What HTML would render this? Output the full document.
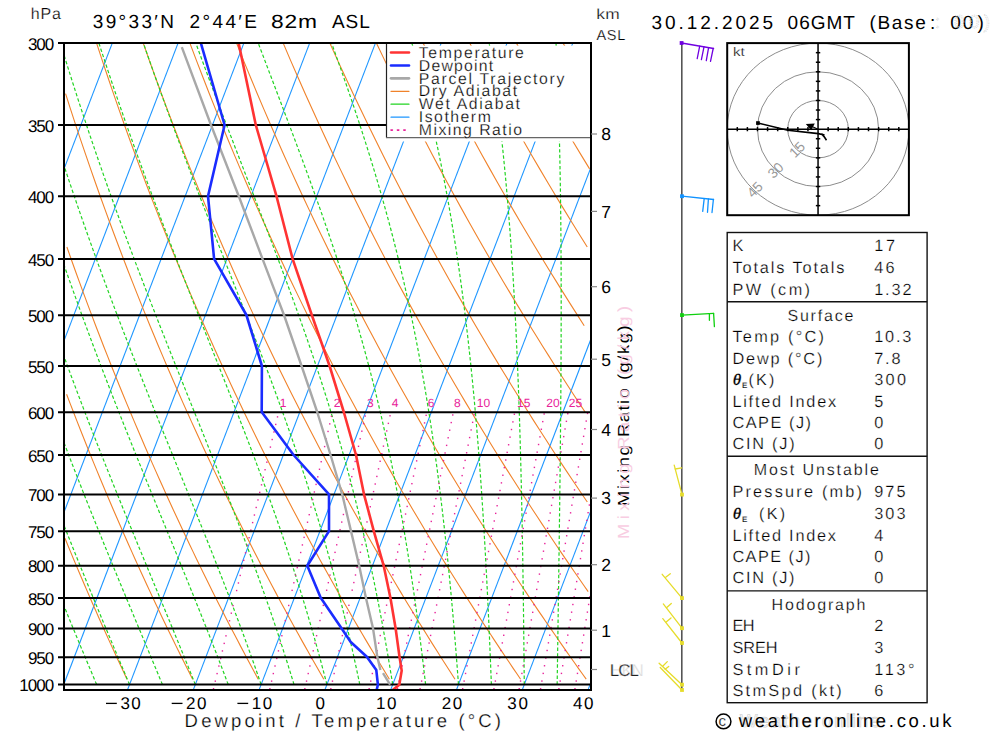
<!DOCTYPE html>
<html><head><meta charset="utf-8"><style>
html,body{margin:0;padding:0;background:#fff;}
svg{display:block;}
text{font-family:"Liberation Sans",sans-serif;text-rendering:geometricPrecision;stroke:#fff;stroke-width:0.25px;paint-order:fill;}
</style></head><body>
<svg width="1000" height="733" viewBox="0 0 1000 733">
<rect width="1000" height="733" fill="#fff"/>
<defs><clipPath id="pc"><rect x="64.0" y="43.0" width="527.0" height="647.0"/></clipPath><clipPath id="hc"><rect x="727.2" y="43.1" width="181.7" height="172.1"/></clipPath></defs>
<g clip-path="url(#pc)">
<g stroke="#1e96ff" stroke-width="1.1" fill="none"><line x1="-464.61" y1="689.85" x2="-216.57" y2="42.89"/><line x1="-398.82" y1="689.85" x2="-150.78" y2="42.89"/><line x1="-333.03" y1="689.85" x2="-84.99" y2="42.89"/><line x1="-267.24" y1="689.85" x2="-19.2" y2="42.89"/><line x1="-201.45" y1="689.85" x2="46.59" y2="42.89"/><line x1="-135.66" y1="689.85" x2="112.38" y2="42.89"/><line x1="-69.87" y1="689.85" x2="178.17" y2="42.89"/><line x1="-4.08" y1="689.85" x2="243.96" y2="42.89"/><line x1="61.71" y1="689.85" x2="309.75" y2="42.89"/><line x1="127.5" y1="689.85" x2="375.54" y2="42.89"/><line x1="193.29" y1="689.85" x2="441.33" y2="42.89"/><line x1="259.08" y1="689.85" x2="507.12" y2="42.89"/><line x1="324.87" y1="689.85" x2="572.91" y2="42.89"/><line x1="390.66" y1="689.85" x2="638.7" y2="42.89"/><line x1="456.45" y1="689.85" x2="704.49" y2="42.89"/><line x1="522.24" y1="689.85" x2="770.28" y2="42.89"/><line x1="588.03" y1="689.85" x2="836.07" y2="42.89"/></g>
<g stroke="#f0822a" stroke-width="1.1" fill="none"><polyline points="127,679.19 124.45,673.78 121.89,668.32 119.32,662.79 116.74,657.21 114.14,651.57 111.53,645.87 108.91,640.11 106.27,634.29 103.62,628.4 100.96,622.44 98.28,616.42 95.59,610.33 92.88,604.17 90.16,597.94 87.42,591.63 84.67,585.25 81.9,578.79 79.12,572.25 76.32,565.63 73.51,558.92 70.68,552.13 67.83,545.26 64.97,538.29"/><polyline points="192.6,679.19 189.86,673.78 187.11,668.32 184.35,662.79 181.57,657.21 178.78,651.57 175.97,645.87 173.15,640.11 170.31,634.29 167.46,628.4 164.59,622.44 161.71,616.42 158.81,610.33 155.9,604.17 152.96,597.94 150.02,591.63 147.05,585.25 144.07,578.79 141.07,572.25 138.05,565.63 135.02,558.92 131.96,552.13 128.89,545.26 125.8,538.29 122.69,531.23 119.56,524.08 116.41,516.82 113.24,509.47 110.05,502.02 106.84,494.46 103.61,486.79 100.36,479.01 97.09,471.12 93.79,463.1 90.48,454.96 87.14,446.7 83.77,438.31 80.38,429.78 76.97,421.11 73.54,412.31 70.08,403.35 66.59,394.24"/><polyline points="258.2,679.19 255.27,673.78 252.33,668.32 249.38,662.79 246.4,657.21 243.42,651.57 240.41,645.87 237.39,640.11 234.36,634.29 231.3,628.4 228.23,622.44 225.14,616.42 222.04,610.33 218.91,604.17 215.77,597.94 212.61,591.63 209.43,585.25 206.23,578.79 203.01,572.25 199.78,565.63 196.52,558.92 193.24,552.13 189.95,545.26 186.63,538.29 183.29,531.23 179.93,524.08 176.54,516.82 173.14,509.47 169.71,502.02 166.26,494.46 162.79,486.79 159.29,479.01 155.77,471.12 152.22,463.1 148.65,454.96 145.05,446.7 141.43,438.31 137.78,429.78 134.1,421.11 130.39,412.31 126.66,403.35 122.9,394.24 119.11,384.97 115.29,375.54 111.44,365.93 107.56,356.15 103.64,346.19 99.7,336.04 95.72,325.69 91.71,315.14 87.66,304.37 83.58,293.38 79.46,282.16 75.31,270.7 71.12,258.99 66.89,247.01"/><polyline points="323.8,679.19 320.69,673.78 317.55,668.32 314.4,662.79 311.24,657.21 308.05,651.57 304.85,645.87 301.63,640.11 298.4,634.29 295.14,628.4 291.87,622.44 288.57,616.42 285.26,610.33 281.93,604.17 278.57,597.94 275.2,591.63 271.81,585.25 268.4,578.79 264.96,572.25 261.5,565.63 258.03,558.92 254.53,552.13 251,545.26 247.46,538.29 243.89,531.23 240.29,524.08 236.68,516.82 233.04,509.47 229.37,502.02 225.68,494.46 221.96,486.79 218.21,479.01 214.44,471.12 210.65,463.1 206.82,454.96 202.96,446.7 199.08,438.31 195.17,429.78 191.22,421.11 187.25,412.31 183.24,403.35 179.21,394.24 175.14,384.97 171.03,375.54 166.9,365.93 162.73,356.15 158.52,346.19 154.28,336.04 150,325.69 145.68,315.14 141.32,304.37 136.93,293.38 132.49,282.16 128.01,270.7 123.49,258.99 118.93,247.01 114.32,234.76 109.67,222.22 104.97,209.37 100.22,196.21 95.43,182.72 90.58,168.88 85.69,154.66 80.74,140.06 75.73,125.05 70.68,109.6 65.56,93.69"/><polyline points="389.4,679.19 386.1,673.78 382.77,668.32 379.43,662.79 376.07,657.21 372.69,651.57 369.29,645.87 365.87,640.11 362.44,634.29 358.98,628.4 355.5,622.44 352,616.42 348.48,610.33 344.94,604.17 341.38,597.94 337.8,591.63 334.19,585.25 330.56,578.79 326.91,572.25 323.23,565.63 319.53,558.92 315.81,552.13 312.06,545.26 308.29,538.29 304.49,531.23 300.66,524.08 296.81,516.82 292.93,509.47 289.03,502.02 285.09,494.46 281.13,486.79 277.14,479.01 273.12,471.12 269.07,463.1 264.99,454.96 260.88,446.7 256.73,438.31 252.56,429.78 248.35,421.11 244.11,412.31 239.83,403.35 235.52,394.24 231.17,384.97 226.78,375.54 222.36,365.93 217.9,356.15 213.4,346.19 208.85,336.04 204.27,325.69 199.65,315.14 194.98,304.37 190.27,293.38 185.51,282.16 180.71,270.7 175.86,258.99 170.96,247.01 166.02,234.76 161.02,222.22 155.97,209.37 150.86,196.21 145.7,182.72 140.48,168.88 135.21,154.66 129.87,140.06 124.48,125.05 119.02,109.6 113.49,93.69 107.9,77.29 102.24,60.37 96.51,42.89"/><polyline points="455,679.19 451.51,673.78 447.99,668.32 444.46,662.79 440.9,657.21 437.33,651.57 433.73,645.87 430.12,640.11 426.48,634.29 422.82,628.4 419.14,622.44 415.43,616.42 411.71,610.33 407.96,604.17 404.18,597.94 400.39,591.63 396.57,585.25 392.72,578.79 388.85,572.25 384.96,565.63 381.04,558.92 377.09,552.13 373.12,545.26 369.11,538.29 365.09,531.23 361.03,524.08 356.94,516.82 352.83,509.47 348.68,502.02 344.51,494.46 340.3,486.79 336.07,479.01 331.8,471.12 327.5,463.1 323.16,454.96 318.79,446.7 314.39,438.31 309.95,429.78 305.47,421.11 300.96,412.31 296.41,403.35 291.82,394.24 287.2,384.97 282.53,375.54 277.82,365.93 273.07,356.15 268.27,346.19 263.43,336.04 258.55,325.69 253.62,315.14 248.64,304.37 243.62,293.38 238.54,282.16 233.41,270.7 228.23,258.99 223,247.01 217.71,234.76 212.36,222.22 206.96,209.37 201.5,196.21 195.97,182.72 190.38,168.88 184.73,154.66 179.01,140.06 173.22,125.05 167.36,109.6 161.42,93.69 155.41,77.29 149.32,60.37 143.15,42.89"/><polyline points="520.61,679.19 516.92,673.78 513.21,668.32 509.49,662.79 505.74,657.21 501.97,651.57 498.17,645.87 494.36,640.11 490.52,634.29 486.66,628.4 482.77,622.44 478.86,616.42 474.93,610.33 470.97,604.17 466.99,597.94 462.98,591.63 458.95,585.25 454.89,578.79 450.8,572.25 446.68,565.63 442.54,558.92 438.37,552.13 434.17,545.26 429.94,538.29 425.68,531.23 421.4,524.08 417.08,516.82 412.72,509.47 408.34,502.02 403.93,494.46 399.48,486.79 394.99,479.01 390.48,471.12 385.92,463.1 381.33,454.96 376.71,446.7 372.04,438.31 367.34,429.78 362.6,421.11 357.82,412.31 353,403.35 348.13,394.24 343.22,384.97 338.27,375.54 333.28,365.93 328.24,356.15 323.15,346.19 318.01,336.04 312.83,325.69 307.59,315.14 302.3,304.37 296.96,293.38 291.56,282.16 286.11,270.7 280.6,258.99 275.03,247.01 269.4,234.76 263.71,222.22 257.96,209.37 252.13,196.21 246.24,182.72 240.28,168.88 234.25,154.66 228.14,140.06 221.96,125.05 215.7,109.6 209.35,93.69 202.92,77.29 196.4,60.37 189.79,42.89"/><polyline points="586.21,679.19 582.33,673.78 578.43,668.32 574.51,662.79 570.57,657.21 566.6,651.57 562.61,645.87 558.6,640.11 554.56,634.29 550.5,628.4 546.41,622.44 542.29,616.42 538.15,610.33 533.99,604.17 529.8,597.94 525.57,591.63 521.33,585.25 517.05,578.79 512.75,572.25 508.41,565.63 504.05,558.92 499.65,552.13 495.23,545.26 490.77,538.29 486.28,531.23 481.76,524.08 477.21,516.82 472.62,509.47 468,502.02 463.34,494.46 458.65,486.79 453.92,479.01 449.15,471.12 444.35,463.1 439.5,454.96 434.62,446.7 429.7,438.31 424.73,429.78 419.73,421.11 414.67,412.31 409.58,403.35 404.44,394.24 399.25,384.97 394.02,375.54 388.74,365.93 383.41,356.15 378.02,346.19 372.59,336.04 367.1,325.69 361.56,315.14 355.96,304.37 350.3,293.38 344.59,282.16 338.81,270.7 332.97,258.99 327.07,247.01 321.1,234.76 315.06,222.22 308.95,209.37 302.77,196.21 296.52,182.72 290.18,168.88 283.77,154.66 277.28,140.06 270.7,125.05 264.04,109.6 257.28,93.69 250.43,77.29 243.48,60.37 236.44,42.89"/><polyline points="588.17,591.63 583.71,585.25 579.21,578.79 574.69,572.25 570.14,565.63 565.55,558.92 560.93,552.13 556.28,545.26 551.6,538.29 546.88,531.23 542.13,524.08 537.34,516.82 532.52,509.47 527.66,502.02 522.76,494.46 517.82,486.79 512.85,479.01 507.83,471.12 502.77,463.1 497.68,454.96 492.54,446.7 487.35,438.31 482.12,429.78 476.85,421.11 471.53,412.31 466.16,403.35 460.75,394.24 455.28,384.97 449.77,375.54 444.2,365.93 438.58,356.15 432.9,346.19 427.17,336.04 421.38,325.69 415.53,315.14 409.62,304.37 403.65,293.38 397.61,282.16 391.51,270.7 385.34,258.99 379.1,247.01 372.79,234.76 366.41,222.22 359.95,209.37 353.41,196.21 346.79,182.72 340.08,168.88 333.29,154.66 326.41,140.06 319.44,125.05 312.37,109.6 305.21,93.69 297.94,77.29 290.56,60.37 283.08,42.89"/><polyline points="587.31,502.02 582.17,494.46 576.99,486.79 571.77,479.01 566.51,471.12 561.2,463.1 555.85,454.96 550.45,446.7 545.01,438.31 539.51,429.78 533.98,421.11 528.39,412.31 522.75,403.35 517.06,394.24 511.31,384.97 505.51,375.54 499.66,365.93 493.75,356.15 487.78,346.19 481.75,336.04 475.66,325.69 469.5,315.14 463.28,304.37 456.99,293.38 450.64,282.16 444.21,270.7 437.71,258.99 431.14,247.01 424.49,234.76 417.76,222.22 410.94,209.37 404.05,196.21 397.06,182.72 389.98,168.88 382.82,154.66 375.55,140.06 368.18,125.05 360.71,109.6 353.14,93.69 345.45,77.29 337.64,60.37 329.72,42.89"/><polyline points="585.24,412.31 579.33,403.35 573.36,394.24 567.34,384.97 561.26,375.54 555.12,365.93 548.92,356.15 542.65,346.19 536.33,336.04 529.93,325.69 523.47,315.14 516.94,304.37 510.34,293.38 503.66,282.16 496.91,270.7 490.08,258.99 483.17,247.01 476.18,234.76 469.1,222.22 461.94,209.37 454.68,196.21 447.33,182.72 439.88,168.88 432.34,154.66 424.69,140.06 416.93,125.05 409.05,109.6 401.07,93.69 392.96,77.29 384.72,60.37 376.36,42.89"/><polyline points="584.21,325.69 577.44,315.14 570.6,304.37 563.68,293.38 556.69,282.16 549.61,270.7 542.45,258.99 535.21,247.01 527.88,234.76 520.45,222.22 512.93,209.37 505.32,196.21 497.6,182.72 489.79,168.88 481.86,154.66 473.82,140.06 465.67,125.05 457.39,109.6 449,93.69 440.47,77.29 431.81,60.37 423,42.89"/><polyline points="587.24,247.01 579.57,234.76 571.8,222.22 563.93,209.37 555.96,196.21 547.88,182.72 539.69,168.88 531.38,154.66 522.96,140.06 514.41,125.05 505.73,109.6 496.92,93.69 487.98,77.29 478.89,60.37 469.64,42.89"/><polyline points="589.59,168.88 580.9,154.66 572.09,140.06 563.15,125.05 554.07,109.6 544.85,93.69 535.49,77.29 525.97,60.37 516.29,42.89"/><polyline points="583,77.29 573.05,60.37 562.93,42.89"/></g>
<g stroke="#22d422" stroke-width="1.2" fill="none" stroke-dasharray="3.4 2.2"><polyline points="96.63,684.55 95.51,681.88 94.38,679.19 93.24,676.5 92.1,673.78 90.96,671.06 89.8,668.32 88.65,665.56 87.49,662.79 86.33,660.01 85.16,657.21 83.98,654.4 82.8,651.57 81.62,648.73 80.43,645.87 79.24,643 78.04,640.11 76.84,637.21 75.63,634.29 74.42,631.35 73.21,628.4 71.98,625.43 70.76,622.44 69.53,619.44 68.29,616.42 67.05,613.38 65.81,610.33 64.56,607.26 63.3,604.17 62.04,601.06 60.78,597.94 59.51,594.79 58.24,591.63 56.96,588.45 55.68,585.25 54.39,582.03 53.09,578.79 51.8,575.53 50.49,572.25 49.19,568.95 47.88,565.63 46.56,562.28 45.24,558.92 43.91,555.54 42.58,552.13 41.24,548.71 39.9,545.26 38.56,541.78 37.2,538.29 35.85,534.77 34.49,531.23 33.12,527.66 31.75,524.08 30.38,520.46 29,516.82 27.61,513.16 26.22,509.47 24.82,505.76 23.42,502.02 22.02,498.25 20.61,494.46 19.19,490.64 17.77,486.79 16.35,482.92 14.92,479.01 13.48,475.08 12.04,471.12 10.59,467.12 9.14,463.1 7.69,459.05 6.23,454.96 4.76,450.85 3.29,446.7 1.81,442.52 0.33,438.31 -1.16,434.06 -2.65,429.78 -4.15,425.47 -5.65,421.11 -7.16,416.73 -8.68,412.31 -10.2,407.85 -11.72,403.35 -13.25,398.81 -14.79,394.24 -16.33,389.62 -17.88,384.97 -19.43,380.27 -20.99,375.54 -22.55,370.76 -24.12,365.93 -25.7,361.07 -27.28,356.15 -28.87,351.2 -30.46,346.19 -32.06,341.14 -33.66,336.04 -35.27,330.89 -36.89,325.69 -38.51,320.44 -40.14,315.14 -41.78,309.78 -43.42,304.37 -45.06,298.9 -46.71,293.38 -48.37,287.8 -50.04,282.16 -51.71,276.46 -53.39,270.7 -55.07,264.87 -56.76,258.99 -58.46,253.03 -60.16,247.01 -61.87,240.92 -63.58,234.76 -65.31,228.52 -67.03,222.22 -68.77,215.83 -70.51,209.37 -72.26,202.83 -74.01,196.21 -75.78,189.51 -77.54,182.72 -79.32,175.84 -81.1,168.88 -82.89,161.82 -84.68,154.66 -86.49,147.41 -88.3,140.06 -90.11,132.61 -91.93,125.05 -93.76,117.38 -95.6,109.6 -97.44,101.7 -99.29,93.69 -101.15,85.55 -103.01,77.29 -104.88,68.9 -106.75,60.37 -108.64,51.7 -110.52,42.89"/><polyline points="129.53,684.55 128.4,681.88 127.27,679.19 126.13,676.5 124.99,673.78 123.84,671.06 122.69,668.32 121.53,665.56 120.36,662.79 119.19,660.01 118.01,657.21 116.83,654.4 115.64,651.57 114.45,648.73 113.25,645.87 112.05,643 110.83,640.11 109.62,637.21 108.4,634.29 107.17,631.35 105.94,628.4 104.7,625.43 103.45,622.44 102.2,619.44 100.95,616.42 99.69,613.38 98.42,610.33 97.15,607.26 95.87,604.17 94.58,601.06 93.29,597.94 92,594.79 90.7,591.63 89.39,588.45 88.08,585.25 86.76,582.03 85.44,578.79 84.11,575.53 82.77,572.25 81.43,568.95 80.09,565.63 78.73,562.28 77.38,558.92 76.01,555.54 74.64,552.13 73.27,548.71 71.89,545.26 70.5,541.78 69.11,538.29 67.71,534.77 66.31,531.23 64.9,527.66 63.48,524.08 62.06,520.46 60.64,516.82 59.21,513.16 57.77,509.47 56.32,505.76 54.88,502.02 53.42,498.25 51.96,494.46 50.49,490.64 49.02,486.79 47.54,482.92 46.06,479.01 44.57,475.08 43.07,471.12 41.57,467.12 40.06,463.1 38.55,459.05 37.03,454.96 35.5,450.85 33.97,446.7 32.44,442.52 30.89,438.31 29.34,434.06 27.79,429.78 26.23,425.47 24.66,421.11 23.09,416.73 21.51,412.31 19.92,407.85 18.33,403.35 16.73,398.81 15.13,394.24 13.52,389.62 11.9,384.97 10.28,380.27 8.65,375.54 7.01,370.76 5.37,365.93 3.72,361.07 2.07,356.15 0.4,351.2 -1.26,346.19 -2.94,341.14 -4.62,336.04 -6.31,330.89 -8,325.69 -9.7,320.44 -11.41,315.14 -13.12,309.78 -14.84,304.37 -16.57,298.9 -18.31,293.38 -20.05,287.8 -21.8,282.16 -23.55,276.46 -25.31,270.7 -27.08,264.87 -28.86,258.99 -30.65,253.03 -32.44,247.01 -34.23,240.92 -36.04,234.76 -37.85,228.52 -39.67,222.22 -41.5,215.83 -43.34,209.37 -45.18,202.83 -47.03,196.21 -48.89,189.51 -50.75,182.72 -52.63,175.84 -54.51,168.88 -56.39,161.82 -58.29,154.66 -60.19,147.41 -62.11,140.06 -64.03,132.61 -65.95,125.05 -67.89,117.38 -69.83,109.6 -71.78,101.7 -73.74,93.69 -75.71,85.55 -77.68,77.29 -79.67,68.9 -81.66,60.37 -83.65,51.7 -85.66,42.89"/><polyline points="162.42,684.55 161.32,681.88 160.2,679.19 159.08,676.5 157.95,673.78 156.82,671.06 155.68,668.32 154.53,665.56 153.38,662.79 152.22,660.01 151.05,657.21 149.88,654.4 148.7,651.57 147.51,648.73 146.32,645.87 145.12,643 143.91,640.11 142.69,637.21 141.47,634.29 140.25,631.35 139.01,628.4 137.77,625.43 136.52,622.44 135.27,619.44 134.01,616.42 132.74,613.38 131.47,610.33 130.19,607.26 128.9,604.17 127.6,601.06 126.3,597.94 125,594.79 123.68,591.63 122.36,588.45 121.03,585.25 119.7,582.03 118.35,578.79 117.01,575.53 115.65,572.25 114.29,568.95 112.92,565.63 111.54,562.28 110.16,558.92 108.77,555.54 107.38,552.13 105.97,548.71 104.56,545.26 103.15,541.78 101.72,538.29 100.29,534.77 98.86,531.23 97.41,527.66 95.96,524.08 94.51,520.46 93.04,516.82 91.57,513.16 90.09,509.47 88.61,505.76 87.12,502.02 85.62,498.25 84.12,494.46 82.61,490.64 81.09,486.79 79.56,482.92 78.03,479.01 76.49,475.08 74.95,471.12 73.39,467.12 71.83,463.1 70.27,459.05 68.7,454.96 67.12,450.85 65.53,446.7 63.94,442.52 62.34,438.31 60.73,434.06 59.11,429.78 57.49,425.47 55.86,421.11 54.23,416.73 52.59,412.31 50.94,407.85 49.28,403.35 47.62,398.81 45.95,394.24 44.27,389.62 42.58,384.97 40.89,380.27 39.19,375.54 37.49,370.76 35.77,365.93 34.05,361.07 32.33,356.15 30.59,351.2 28.85,346.19 27.1,341.14 25.34,336.04 23.58,330.89 21.8,325.69 20.02,320.44 18.24,315.14 16.44,309.78 14.64,304.37 12.83,298.9 11.01,293.38 9.18,287.8 7.35,282.16 5.51,276.46 3.66,270.7 1.8,264.87 -0.06,258.99 -1.94,253.03 -3.82,247.01 -5.71,240.92 -7.61,234.76 -9.51,228.52 -11.43,222.22 -13.35,215.83 -15.28,209.37 -17.22,202.83 -19.17,196.21 -21.12,189.51 -23.09,182.72 -25.06,175.84 -27.04,168.88 -29.04,161.82 -31.04,154.66 -33.04,147.41 -35.06,140.06 -37.09,132.61 -39.12,125.05 -41.17,117.38 -43.22,109.6 -45.29,101.7 -47.36,93.69 -49.44,85.55 -51.53,77.29 -53.63,68.9 -55.74,60.37 -57.86,51.7 -59.98,42.89"/><polyline points="195.32,684.55 194.25,681.88 193.18,679.19 192.1,676.5 191.01,673.78 189.91,671.06 188.8,668.32 187.69,665.56 186.57,662.79 185.44,660.01 184.31,657.21 183.16,654.4 182.01,651.57 180.85,648.73 179.69,645.87 178.51,643 177.33,640.11 176.14,637.21 174.94,634.29 173.74,631.35 172.52,628.4 171.3,625.43 170.07,622.44 168.84,619.44 167.59,616.42 166.34,613.38 165.08,610.33 163.81,607.26 162.53,604.17 161.24,601.06 159.95,597.94 158.65,594.79 157.34,591.63 156.02,588.45 154.7,585.25 153.36,582.03 152.02,578.79 150.67,575.53 149.31,572.25 147.95,568.95 146.57,565.63 145.19,562.28 143.8,558.92 142.4,555.54 140.99,552.13 139.58,548.71 138.16,545.26 136.73,541.78 135.29,538.29 133.84,534.77 132.38,531.23 130.92,527.66 129.45,524.08 127.97,520.46 126.48,516.82 124.98,513.16 123.48,509.47 121.97,505.76 120.44,502.02 118.92,498.25 117.38,494.46 115.83,490.64 114.28,486.79 112.72,482.92 111.15,479.01 109.57,475.08 107.99,471.12 106.39,467.12 104.79,463.1 103.18,459.05 101.56,454.96 99.93,450.85 98.3,446.7 96.66,442.52 95.01,438.31 93.35,434.06 91.68,429.78 90,425.47 88.32,421.11 86.63,416.73 84.93,412.31 83.22,407.85 81.5,403.35 79.78,398.81 78.05,394.24 76.3,389.62 74.55,384.97 72.8,380.27 71.03,375.54 69.26,370.76 67.47,365.93 65.68,361.07 63.88,356.15 62.07,351.2 60.26,346.19 58.43,341.14 56.6,336.04 54.76,330.89 52.91,325.69 51.05,320.44 49.18,315.14 47.31,309.78 45.42,304.37 43.53,298.9 41.63,293.38 39.71,287.8 37.79,282.16 35.87,276.46 33.93,270.7 31.98,264.87 30.03,258.99 28.06,253.03 26.09,247.01 24.1,240.92 22.11,234.76 20.11,228.52 18.1,222.22 16.08,215.83 14.05,209.37 12.01,202.83 9.96,196.21 7.9,189.51 5.83,182.72 3.75,175.84 1.67,168.88 -0.43,161.82 -2.54,154.66 -4.66,147.41 -6.79,140.06 -8.92,132.61 -11.07,125.05 -13.23,117.38 -15.4,109.6 -17.58,101.7 -19.77,93.69 -21.97,85.55 -24.18,77.29 -26.4,68.9 -28.64,60.37 -30.88,51.7 -33.13,42.89"/><polyline points="228.21,684.55 227.21,681.88 226.2,679.19 225.18,676.5 224.15,673.78 223.12,671.06 222.07,668.32 221.02,665.56 219.96,662.79 218.89,660.01 217.81,657.21 216.72,654.4 215.63,651.57 214.52,648.73 213.41,645.87 212.29,643 211.16,640.11 210.02,637.21 208.87,634.29 207.71,631.35 206.54,628.4 205.37,625.43 204.18,622.44 202.99,619.44 201.79,616.42 200.57,613.38 199.35,610.33 198.12,607.26 196.88,604.17 195.63,601.06 194.37,597.94 193.1,594.79 191.82,591.63 190.53,588.45 189.24,585.25 187.93,582.03 186.61,578.79 185.29,575.53 183.95,572.25 182.61,568.95 181.25,565.63 179.89,562.28 178.51,558.92 177.13,555.54 175.73,552.13 174.33,548.71 172.92,545.26 171.49,541.78 170.06,538.29 168.62,534.77 167.16,531.23 165.7,527.66 164.23,524.08 162.75,520.46 161.25,516.82 159.75,513.16 158.24,509.47 156.72,505.76 155.19,502.02 153.64,498.25 152.09,494.46 150.53,490.64 148.96,486.79 147.38,482.92 145.79,479.01 144.19,475.08 142.58,471.12 140.96,467.12 139.33,463.1 137.68,459.05 136.03,454.96 134.37,450.85 132.7,446.7 131.02,442.52 129.34,438.31 127.64,434.06 125.93,429.78 124.21,425.47 122.48,421.11 120.74,416.73 118.99,412.31 117.23,407.85 115.46,403.35 113.69,398.81 111.9,394.24 110.1,389.62 108.29,384.97 106.48,380.27 104.65,375.54 102.81,370.76 100.97,365.93 99.11,361.07 97.24,356.15 95.37,351.2 93.48,346.19 91.58,341.14 89.68,336.04 87.76,330.89 85.83,325.69 83.9,320.44 81.95,315.14 80,309.78 78.03,304.37 76.05,298.9 74.07,293.38 72.07,287.8 70.06,282.16 68.05,276.46 66.02,270.7 63.98,264.87 61.93,258.99 59.87,253.03 57.81,247.01 55.73,240.92 53.64,234.76 51.54,228.52 49.43,222.22 47.3,215.83 45.17,209.37 43.03,202.83 40.87,196.21 38.71,189.51 36.53,182.72 34.35,175.84 32.15,168.88 29.94,161.82 27.72,154.66 25.48,147.41 23.24,140.06 20.98,132.61 18.72,125.05 16.44,117.38 14.15,109.6 11.84,101.7 9.53,93.69 7.2,85.55 4.86,77.29 2.51,68.9 0.15,60.37 -2.23,51.7 -4.61,42.89"/><polyline points="261.11,684.55 260.19,681.88 259.27,679.19 258.34,676.5 257.4,673.78 256.45,671.06 255.49,668.32 254.52,665.56 253.55,662.79 252.56,660.01 251.57,657.21 250.56,654.4 249.55,651.57 248.53,648.73 247.5,645.87 246.46,643 245.41,640.11 244.34,637.21 243.27,634.29 242.19,631.35 241.1,628.4 240,625.43 238.89,622.44 237.77,619.44 236.64,616.42 235.5,613.38 234.35,610.33 233.19,607.26 232.02,604.17 230.84,601.06 229.64,597.94 228.44,594.79 227.23,591.63 226,588.45 224.76,585.25 223.52,582.03 222.26,578.79 220.99,575.53 219.71,572.25 218.42,568.95 217.11,565.63 215.8,562.28 214.47,558.92 213.14,555.54 211.79,552.13 210.43,548.71 209.05,545.26 207.67,541.78 206.28,538.29 204.87,534.77 203.45,531.23 202.02,527.66 200.58,524.08 199.12,520.46 197.66,516.82 196.18,513.16 194.69,509.47 193.19,505.76 191.68,502.02 190.15,498.25 188.61,494.46 187.06,490.64 185.5,486.79 183.93,482.92 182.34,479.01 180.74,475.08 179.13,471.12 177.51,467.12 175.88,463.1 174.23,459.05 172.57,454.96 170.9,450.85 169.22,446.7 167.53,442.52 165.82,438.31 164.1,434.06 162.37,429.78 160.63,425.47 158.87,421.11 157.1,416.73 155.32,412.31 153.53,407.85 151.73,403.35 149.91,398.81 148.09,394.24 146.25,389.62 144.39,384.97 142.53,380.27 140.66,375.54 138.77,370.76 136.87,365.93 134.96,361.07 133.03,356.15 131.1,351.2 129.15,346.19 127.19,341.14 125.22,336.04 123.23,330.89 121.24,325.69 119.23,320.44 117.21,315.14 115.18,309.78 113.14,304.37 111.08,298.9 109.01,293.38 106.93,287.8 104.84,282.16 102.74,276.46 100.62,270.7 98.49,264.87 96.35,258.99 94.2,253.03 92.04,247.01 89.86,240.92 87.67,234.76 85.47,228.52 83.26,222.22 81.03,215.83 78.79,209.37 76.54,202.83 74.28,196.21 72,189.51 69.71,182.72 67.41,175.84 65.09,168.88 62.77,161.82 60.43,154.66 58.07,147.41 55.71,140.06 53.33,132.61 50.93,125.05 48.53,117.38 46.1,109.6 43.67,101.7 41.22,93.69 38.76,85.55 36.29,77.29 33.8,68.9 31.29,60.37 28.78,51.7 26.24,42.89"/><polyline points="294,684.55 293.2,681.88 292.38,679.19 291.56,676.5 290.73,673.78 289.89,671.06 289.04,668.32 288.18,665.56 287.31,662.79 286.44,660.01 285.55,657.21 284.66,654.4 283.76,651.57 282.84,648.73 281.92,645.87 280.99,643 280.05,640.11 279.09,637.21 278.13,634.29 277.16,631.35 276.18,628.4 275.19,625.43 274.18,622.44 273.17,619.44 272.15,616.42 271.11,613.38 270.06,610.33 269.01,607.26 267.94,604.17 266.86,601.06 265.77,597.94 264.67,594.79 263.55,591.63 262.43,588.45 261.29,585.25 260.14,582.03 258.98,578.79 257.81,575.53 256.62,572.25 255.42,568.95 254.21,565.63 252.99,562.28 251.75,558.92 250.5,555.54 249.24,552.13 247.97,548.71 246.68,545.26 245.38,541.78 244.06,538.29 242.73,534.77 241.39,531.23 240.04,527.66 238.67,524.08 237.28,520.46 235.89,516.82 234.48,513.16 233.05,509.47 231.61,505.76 230.16,502.02 228.69,498.25 227.21,494.46 225.72,490.64 224.21,486.79 222.68,482.92 221.14,479.01 219.59,475.08 218.02,471.12 216.44,467.12 214.84,463.1 213.23,459.05 211.6,454.96 209.95,450.85 208.3,446.7 206.62,442.52 204.94,438.31 203.23,434.06 201.52,429.78 199.78,425.47 198.04,421.11 196.27,416.73 194.49,412.31 192.7,407.85 190.89,403.35 189.07,398.81 187.23,394.24 185.38,389.62 183.51,384.97 181.63,380.27 179.73,375.54 177.81,370.76 175.88,365.93 173.94,361.07 171.98,356.15 170.01,351.2 168.02,346.19 166.01,341.14 164,336.04 161.96,330.89 159.91,325.69 157.85,320.44 155.77,315.14 153.68,309.78 151.57,304.37 149.45,298.9 147.31,293.38 145.15,287.8 142.99,282.16 140.8,276.46 138.61,270.7 136.39,264.87 134.17,258.99 131.93,253.03 129.67,247.01 127.4,240.92 125.11,234.76 122.81,228.52 120.49,222.22 118.16,215.83 115.82,209.37 113.46,202.83 111.08,196.21 108.69,189.51 106.29,182.72 103.86,175.84 101.43,168.88 98.98,161.82 96.51,154.66 94.03,147.41 91.53,140.06 89.02,132.61 86.49,125.05 83.95,117.38 81.39,109.6 78.81,101.7 76.22,93.69 73.61,85.55 70.99,77.29 68.35,68.9 65.69,60.37 63.02,51.7 60.33,42.89"/><polyline points="326.9,684.55 326.22,681.88 325.52,679.19 324.83,676.5 324.12,673.78 323.4,671.06 322.68,668.32 321.95,665.56 321.21,662.79 320.47,660.01 319.71,657.21 318.95,654.4 318.17,651.57 317.39,648.73 316.6,645.87 315.8,643 314.99,640.11 314.17,637.21 313.34,634.29 312.51,631.35 311.66,628.4 310.8,625.43 309.93,622.44 309.06,619.44 308.17,616.42 307.27,613.38 306.36,610.33 305.44,607.26 304.51,604.17 303.57,601.06 302.61,597.94 301.65,594.79 300.67,591.63 299.68,588.45 298.68,585.25 297.67,582.03 296.64,578.79 295.61,575.53 294.56,572.25 293.5,568.95 292.42,565.63 291.33,562.28 290.23,558.92 289.12,555.54 287.99,552.13 286.84,548.71 285.69,545.26 284.52,541.78 283.33,538.29 282.13,534.77 280.92,531.23 279.69,527.66 278.45,524.08 277.19,520.46 275.92,516.82 274.63,513.16 273.32,509.47 272,505.76 270.66,502.02 269.31,498.25 267.94,494.46 266.56,490.64 265.16,486.79 263.74,482.92 262.3,479.01 260.85,475.08 259.38,471.12 257.89,467.12 256.39,463.1 254.87,459.05 253.33,454.96 251.77,450.85 250.2,446.7 248.6,442.52 246.99,438.31 245.36,434.06 243.72,429.78 242.05,425.47 240.37,421.11 238.66,416.73 236.94,412.31 235.2,407.85 233.44,403.35 231.66,398.81 229.87,394.24 228.05,389.62 226.22,384.97 224.36,380.27 222.49,375.54 220.6,370.76 218.69,365.93 216.75,361.07 214.8,356.15 212.84,351.2 210.85,346.19 208.84,341.14 206.81,336.04 204.77,330.89 202.7,325.69 200.62,320.44 198.51,315.14 196.39,309.78 194.25,304.37 192.08,298.9 189.9,293.38 187.7,287.8 185.49,282.16 183.25,276.46 180.99,270.7 178.72,264.87 176.42,258.99 174.11,253.03 171.77,247.01 169.42,240.92 167.05,234.76 164.66,228.52 162.26,222.22 159.83,215.83 157.39,209.37 154.92,202.83 152.44,196.21 149.94,189.51 147.42,182.72 144.88,175.84 142.32,168.88 139.75,161.82 137.15,154.66 134.54,147.41 131.91,140.06 129.26,132.61 126.59,125.05 123.9,117.38 121.19,109.6 118.47,101.7 115.72,93.69 112.96,85.55 110.17,77.29 107.37,68.9 104.55,60.37 101.7,51.7 98.84,42.89"/><polyline points="359.79,684.55 359.24,681.88 358.68,679.19 358.11,676.5 357.54,673.78 356.96,671.06 356.37,668.32 355.78,665.56 355.18,662.79 354.57,660.01 353.96,657.21 353.33,654.4 352.7,651.57 352.07,648.73 351.42,645.87 350.77,643 350.11,640.11 349.44,637.21 348.76,634.29 348.07,631.35 347.38,628.4 346.67,625.43 345.96,622.44 345.24,619.44 344.51,616.42 343.77,613.38 343.02,610.33 342.26,607.26 341.49,604.17 340.71,601.06 339.92,597.94 339.11,594.79 338.3,591.63 337.48,588.45 336.65,585.25 335.81,582.03 334.95,578.79 334.08,575.53 333.2,572.25 332.31,568.95 331.41,565.63 330.5,562.28 329.57,558.92 328.63,555.54 327.67,552.13 326.71,548.71 325.73,545.26 324.73,541.78 323.73,538.29 322.71,534.77 321.67,531.23 320.62,527.66 319.55,524.08 318.47,520.46 317.38,516.82 316.27,513.16 315.14,509.47 314,505.76 312.84,502.02 311.66,498.25 310.47,494.46 309.26,490.64 308.03,486.79 306.79,482.92 305.52,479.01 304.24,475.08 302.94,471.12 301.63,467.12 300.29,463.1 298.93,459.05 297.56,454.96 296.16,450.85 294.75,446.7 293.31,442.52 291.86,438.31 290.38,434.06 288.89,429.78 287.37,425.47 285.83,421.11 284.27,416.73 282.69,412.31 281.08,407.85 279.45,403.35 277.8,398.81 276.13,394.24 274.44,389.62 272.72,384.97 270.98,380.27 269.21,375.54 267.42,370.76 265.61,365.93 263.77,361.07 261.91,356.15 260.03,351.2 258.12,346.19 256.18,341.14 254.23,336.04 252.24,330.89 250.23,325.69 248.2,320.44 246.14,315.14 244.06,309.78 241.95,304.37 239.82,298.9 237.66,293.38 235.47,287.8 233.26,282.16 231.03,276.46 228.77,270.7 226.48,264.87 224.17,258.99 221.83,253.03 219.47,247.01 217.09,240.92 214.68,234.76 212.24,228.52 209.78,222.22 207.29,215.83 204.78,209.37 202.24,202.83 199.68,196.21 197.1,189.51 194.48,182.72 191.85,175.84 189.19,168.88 186.51,161.82 183.8,154.66 181.06,147.41 178.31,140.06 175.52,132.61 172.72,125.05 169.89,117.38 167.03,109.6 164.16,101.7 161.25,93.69 158.33,85.55 155.37,77.29 152.4,68.9 149.4,60.37 146.38,51.7 143.33,42.89"/><polyline points="392.69,684.55 392.27,681.88 391.84,679.19 391.4,676.5 390.96,673.78 390.51,671.06 390.06,668.32 389.61,665.56 389.15,662.79 388.68,660.01 388.21,657.21 387.73,654.4 387.24,651.57 386.75,648.73 386.25,645.87 385.75,643 385.24,640.11 384.72,637.21 384.2,634.29 383.67,631.35 383.13,628.4 382.59,625.43 382.04,622.44 381.48,619.44 380.91,616.42 380.34,613.38 379.76,610.33 379.17,607.26 378.57,604.17 377.96,601.06 377.35,597.94 376.72,594.79 376.09,591.63 375.45,588.45 374.8,585.25 374.14,582.03 373.48,578.79 372.8,575.53 372.11,572.25 371.41,568.95 370.7,565.63 369.98,562.28 369.25,558.92 368.51,555.54 367.76,552.13 367,548.71 366.23,545.26 365.44,541.78 364.64,538.29 363.83,534.77 363.01,531.23 362.17,527.66 361.32,524.08 360.46,520.46 359.59,516.82 358.7,513.16 357.79,509.47 356.87,505.76 355.94,502.02 354.99,498.25 354.03,494.46 353.05,490.64 352.05,486.79 351.04,482.92 350.01,479.01 348.97,475.08 347.9,471.12 346.82,467.12 345.73,463.1 344.61,459.05 343.47,454.96 342.32,450.85 341.14,446.7 339.95,442.52 338.73,438.31 337.5,434.06 336.24,429.78 334.96,425.47 333.66,421.11 332.34,416.73 330.99,412.31 329.62,407.85 328.23,403.35 326.82,398.81 325.38,394.24 323.91,389.62 322.42,384.97 320.9,380.27 319.36,375.54 317.79,370.76 316.19,365.93 314.57,361.07 312.92,356.15 311.24,351.2 309.53,346.19 307.79,341.14 306.03,336.04 304.23,330.89 302.4,325.69 300.55,320.44 298.66,315.14 296.74,309.78 294.79,304.37 292.81,298.9 290.79,293.38 288.75,287.8 286.67,282.16 284.55,276.46 282.41,270.7 280.23,264.87 278.02,258.99 275.77,253.03 273.49,247.01 271.17,240.92 268.83,234.76 266.44,228.52 264.02,222.22 261.57,215.83 259.09,209.37 256.56,202.83 254.01,196.21 251.42,189.51 248.79,182.72 246.13,175.84 243.44,168.88 240.71,161.82 237.95,154.66 235.15,147.41 232.32,140.06 229.46,132.61 226.56,125.05 223.63,117.38 220.66,109.6 217.66,101.7 214.63,93.69 211.56,85.55 208.46,77.29 205.33,68.9 202.16,60.37 198.97,51.7 195.74,42.89"/><polyline points="425.58,684.55 425.28,681.88 424.97,679.19 424.66,676.5 424.35,673.78 424.03,671.06 423.71,668.32 423.38,665.56 423.05,662.79 422.72,660.01 422.38,657.21 422.03,654.4 421.69,651.57 421.34,648.73 420.98,645.87 420.62,643 420.25,640.11 419.88,637.21 419.51,634.29 419.13,631.35 418.74,628.4 418.35,625.43 417.96,622.44 417.56,619.44 417.15,616.42 416.74,613.38 416.32,610.33 415.9,607.26 415.47,604.17 415.03,601.06 414.59,597.94 414.14,594.79 413.69,591.63 413.23,588.45 412.76,585.25 412.28,582.03 411.8,578.79 411.31,575.53 410.81,572.25 410.31,568.95 409.8,565.63 409.28,562.28 408.75,558.92 408.21,555.54 407.67,552.13 407.11,548.71 406.55,545.26 405.98,541.78 405.4,538.29 404.81,534.77 404.21,531.23 403.6,527.66 402.98,524.08 402.35,520.46 401.71,516.82 401.06,513.16 400.4,509.47 399.72,505.76 399.04,502.02 398.34,498.25 397.63,494.46 396.9,490.64 396.17,486.79 395.42,482.92 394.66,479.01 393.88,475.08 393.09,471.12 392.29,467.12 391.47,463.1 390.63,459.05 389.78,454.96 388.92,450.85 388.03,446.7 387.13,442.52 386.22,438.31 385.28,434.06 384.33,429.78 383.36,425.47 382.37,421.11 381.36,416.73 380.33,412.31 379.27,407.85 378.2,403.35 377.11,398.81 375.99,394.24 374.85,389.62 373.69,384.97 372.51,380.27 371.3,375.54 370.06,370.76 368.8,365.93 367.51,361.07 366.2,356.15 364.85,351.2 363.48,346.19 362.08,341.14 360.65,336.04 359.2,330.89 357.7,325.69 356.18,320.44 354.63,315.14 353.04,309.78 351.41,304.37 349.76,298.9 348.06,293.38 346.34,287.8 344.57,282.16 342.76,276.46 340.92,270.7 339.04,264.87 337.12,258.99 335.16,253.03 333.15,247.01 331.11,240.92 329.02,234.76 326.89,228.52 324.71,222.22 322.49,215.83 320.22,209.37 317.91,202.83 315.55,196.21 313.15,189.51 310.69,182.72 308.19,175.84 305.64,168.88 303.05,161.82 300.4,154.66 297.71,147.41 294.96,140.06 292.17,132.61 289.32,125.05 286.43,117.38 283.49,109.6 280.49,101.7 277.45,93.69 274.36,85.55 271.22,77.29 268.03,68.9 264.79,60.37 261.5,51.7 258.16,42.89"/><polyline points="458.48,684.55 458.28,681.88 458.09,679.19 457.89,676.5 457.69,673.78 457.48,671.06 457.27,668.32 457.06,665.56 456.85,662.79 456.64,660.01 456.42,657.21 456.2,654.4 455.98,651.57 455.75,648.73 455.52,645.87 455.29,643 455.05,640.11 454.81,637.21 454.57,634.29 454.33,631.35 454.08,628.4 453.83,625.43 453.58,622.44 453.32,619.44 453.06,616.42 452.79,613.38 452.52,610.33 452.25,607.26 451.97,604.17 451.69,601.06 451.4,597.94 451.11,594.79 450.82,591.63 450.52,588.45 450.22,585.25 449.91,582.03 449.6,578.79 449.29,575.53 448.96,572.25 448.64,568.95 448.31,565.63 447.97,562.28 447.63,558.92 447.28,555.54 446.92,552.13 446.57,548.71 446.2,545.26 445.83,541.78 445.45,538.29 445.07,534.77 444.68,531.23 444.28,527.66 443.88,524.08 443.47,520.46 443.05,516.82 442.62,513.16 442.19,509.47 441.75,505.76 441.3,502.02 440.84,498.25 440.38,494.46 439.9,490.64 439.42,486.79 438.93,482.92 438.42,479.01 437.91,475.08 437.39,471.12 436.86,467.12 436.32,463.1 435.76,459.05 435.2,454.96 434.63,450.85 434.04,446.7 433.44,442.52 432.83,438.31 432.21,434.06 431.57,429.78 430.92,425.47 430.25,421.11 429.58,416.73 428.88,412.31 428.17,407.85 427.45,403.35 426.71,398.81 425.95,394.24 425.18,389.62 424.39,384.97 423.58,380.27 422.75,375.54 421.9,370.76 421.04,365.93 420.15,361.07 419.24,356.15 418.31,351.2 417.35,346.19 416.38,341.14 415.38,336.04 414.35,330.89 413.3,325.69 412.22,320.44 411.12,315.14 409.99,309.78 408.83,304.37 407.63,298.9 406.41,293.38 405.16,287.8 403.87,282.16 402.55,276.46 401.19,270.7 399.8,264.87 398.37,258.99 396.9,253.03 395.39,247.01 393.84,240.92 392.25,234.76 390.62,228.52 388.94,222.22 387.21,215.83 385.44,209.37 383.61,202.83 381.74,196.21 379.81,189.51 377.83,182.72 375.8,175.84 373.71,168.88 371.56,161.82 369.35,154.66 367.08,147.41 364.75,140.06 362.36,132.61 359.9,125.05 357.38,117.38 354.78,109.6 352.12,101.7 349.39,93.69 346.59,85.55 343.71,77.29 340.77,68.9 337.74,60.37 334.65,51.7 331.48,42.89"/><polyline points="491.38,684.55 491.27,681.88 491.17,679.19 491.07,676.5 490.96,673.78 490.85,671.06 490.75,668.32 490.64,665.56 490.52,662.79 490.41,660.01 490.3,657.21 490.18,654.4 490.07,651.57 489.95,648.73 489.83,645.87 489.71,643 489.58,640.11 489.46,637.21 489.33,634.29 489.2,631.35 489.07,628.4 488.94,625.43 488.81,622.44 488.67,619.44 488.53,616.42 488.39,613.38 488.25,610.33 488.11,607.26 487.96,604.17 487.81,601.06 487.66,597.94 487.51,594.79 487.35,591.63 487.19,588.45 487.03,585.25 486.87,582.03 486.7,578.79 486.53,575.53 486.36,572.25 486.19,568.95 486.01,565.63 485.83,562.28 485.65,558.92 485.46,555.54 485.27,552.13 485.08,548.71 484.88,545.26 484.69,541.78 484.48,538.29 484.28,534.77 484.06,531.23 483.85,527.66 483.63,524.08 483.41,520.46 483.18,516.82 482.95,513.16 482.72,509.47 482.48,505.76 482.23,502.02 481.98,498.25 481.73,494.46 481.47,490.64 481.21,486.79 480.94,482.92 480.66,479.01 480.38,475.08 480.1,471.12 479.8,467.12 479.5,463.1 479.2,459.05 478.89,454.96 478.57,450.85 478.24,446.7 477.91,442.52 477.57,438.31 477.22,434.06 476.87,429.78 476.51,425.47 476.13,421.11 475.75,416.73 475.36,412.31 474.97,407.85 474.56,403.35 474.14,398.81 473.71,394.24 473.27,389.62 472.83,384.97 472.37,380.27 471.89,375.54 471.41,370.76 470.91,365.93 470.4,361.07 469.88,356.15 469.34,351.2 468.79,346.19 468.23,341.14 467.65,336.04 467.05,330.89 466.44,325.69 465.81,320.44 465.16,315.14 464.5,309.78 463.81,304.37 463.1,298.9 462.38,293.38 461.63,287.8 460.86,282.16 460.07,276.46 459.25,270.7 458.41,264.87 457.54,258.99 456.65,253.03 455.73,247.01 454.77,240.92 453.79,234.76 452.78,228.52 451.73,222.22 450.65,215.83 449.53,209.37 448.37,202.83 447.17,196.21 445.94,189.51 444.66,182.72 443.34,175.84 441.96,168.88 440.55,161.82 439.08,154.66 437.55,147.41 435.98,140.06 434.34,132.61 432.65,125.05 430.89,117.38 429.07,109.6 427.18,101.7 425.22,93.69 423.18,85.55 421.07,77.29 418.88,68.9 416.61,60.37 414.25,51.7 411.8,42.89"/><polyline points="524.27,684.55 524.25,681.88 524.22,679.19 524.2,676.5 524.17,673.78 524.14,671.06 524.12,668.32 524.09,665.56 524.06,662.79 524.04,660.01 524.01,657.21 523.98,654.4 523.95,651.57 523.92,648.73 523.89,645.87 523.86,643 523.83,640.11 523.8,637.21 523.76,634.29 523.73,631.35 523.7,628.4 523.66,625.43 523.63,622.44 523.59,619.44 523.56,616.42 523.52,613.38 523.48,610.33 523.44,607.26 523.4,604.17 523.36,601.06 523.32,597.94 523.28,594.79 523.23,591.63 523.19,588.45 523.15,585.25 523.1,582.03 523.05,578.79 523,575.53 522.95,572.25 522.9,568.95 522.85,565.63 522.8,562.28 522.75,558.92 522.69,555.54 522.64,552.13 522.58,548.71 522.52,545.26 522.46,541.78 522.4,538.29 522.33,534.77 522.27,531.23 522.2,527.66 522.13,524.08 522.06,520.46 521.99,516.82 521.92,513.16 521.84,509.47 521.76,505.76 521.68,502.02 521.6,498.25 521.52,494.46 521.43,490.64 521.35,486.79 521.25,482.92 521.16,479.01 521.07,475.08 520.97,471.12 520.87,467.12 520.76,463.1 520.66,459.05 520.55,454.96 520.44,450.85 520.32,446.7 520.2,442.52 520.08,438.31 519.96,434.06 519.83,429.78 519.69,425.47 519.56,421.11 519.42,416.73 519.27,412.31 519.12,407.85 518.97,403.35 518.81,398.81 518.65,394.24 518.48,389.62 518.31,384.97 518.13,380.27 517.94,375.54 517.75,370.76 517.56,365.93 517.35,361.07 517.15,356.15 516.93,351.2 516.71,346.19 516.48,341.14 516.24,336.04 516,330.89 515.74,325.69 515.48,320.44 515.21,315.14 514.93,309.78 514.64,304.37 514.34,298.9 514.03,293.38 513.71,287.8 513.38,282.16 513.03,276.46 512.68,270.7 512.31,264.87 511.92,258.99 511.53,253.03 511.11,247.01 510.69,240.92 510.24,234.76 509.78,228.52 509.3,222.22 508.8,215.83 508.29,209.37 507.75,202.83 507.19,196.21 506.61,189.51 506,182.72 505.37,175.84 504.71,168.88 504.02,161.82 503.31,154.66 502.56,147.41 501.78,140.06 500.97,132.61 500.12,125.05 499.23,117.38 498.31,109.6 497.34,101.7 496.32,93.69 495.26,85.55 494.14,77.29 492.98,68.9 491.75,60.37 490.47,51.7 489.12,42.89"/><polyline points="557.16,684.55 557.2,681.88 557.24,679.19 557.28,676.5 557.32,673.78 557.36,671.06 557.4,668.32 557.44,665.56 557.48,662.79 557.52,660.01 557.56,657.21 557.6,654.4 557.64,651.57 557.68,648.73 557.72,645.87 557.76,643 557.8,640.11 557.84,637.21 557.89,634.29 557.93,631.35 557.97,628.4 558.01,625.43 558.06,622.44 558.1,619.44 558.14,616.42 558.19,613.38 558.23,610.33 558.28,607.26 558.32,604.17 558.37,601.06 558.41,597.94 558.46,594.79 558.5,591.63 558.55,588.45 558.59,585.25 558.64,582.03 558.68,578.79 558.73,575.53 558.78,572.25 558.82,568.95 558.87,565.63 558.91,562.28 558.96,558.92 559.01,555.54 559.06,552.13 559.1,548.71 559.15,545.26 559.2,541.78 559.24,538.29 559.29,534.77 559.34,531.23 559.39,527.66 559.43,524.08 559.48,520.46 559.53,516.82 559.57,513.16 559.62,509.47 559.67,505.76 559.72,502.02 559.76,498.25 559.81,494.46 559.86,490.64 559.9,486.79 559.95,482.92 559.99,479.01 560.04,475.08 560.09,471.12 560.13,467.12 560.18,463.1 560.22,459.05 560.27,454.96 560.31,450.85 560.35,446.7 560.4,442.52 560.44,438.31 560.48,434.06 560.52,429.78 560.56,425.47 560.6,421.11 560.64,416.73 560.68,412.31 560.72,407.85 560.75,403.35 560.79,398.81 560.82,394.24 560.86,389.62 560.89,384.97 560.92,380.27 560.95,375.54 560.98,370.76 561.01,365.93 561.03,361.07 561.05,356.15 561.08,351.2 561.1,346.19 561.12,341.14 561.13,336.04 561.15,330.89 561.16,325.69 561.17,320.44 561.18,315.14 561.18,309.78 561.18,304.37 561.18,298.9 561.18,293.38 561.17,287.8 561.16,282.16 561.14,276.46 561.12,270.7 561.1,264.87 561.07,258.99 561.04,253.03 561,247.01 560.96,240.92 560.91,234.76 560.86,228.52 560.8,222.22 560.73,215.83 560.66,209.37 560.57,202.83 560.49,196.21 560.39,189.51 560.28,182.72 560.17,175.84 560.04,168.88 559.91,161.82 559.76,154.66 559.6,147.41 559.43,140.06 559.25,132.61 559.05,125.05 558.83,117.38 558.6,109.6 558.35,101.7 558.09,93.69 557.8,85.55 557.49,77.29 557.16,68.9 556.81,60.37 556.43,51.7 556.02,42.89"/></g>
<g fill="#e8229a"><rect x="212.83" y="688" width="1.4" height="1.4"/><rect x="214.61" y="680.45" width="1.4" height="1.4"/><rect x="216.39" y="672.9" width="1.4" height="1.4"/><rect x="218.17" y="665.35" width="1.4" height="1.4"/><rect x="219.94" y="657.8" width="1.4" height="1.4"/><rect x="221.72" y="650.25" width="1.4" height="1.4"/><rect x="223.5" y="642.7" width="1.4" height="1.4"/><rect x="225.28" y="635.15" width="1.4" height="1.4"/><rect x="227.05" y="627.59" width="1.4" height="1.4"/><rect x="228.83" y="620.04" width="1.4" height="1.4"/><rect x="230.61" y="612.49" width="1.4" height="1.4"/><rect x="232.38" y="604.94" width="1.4" height="1.4"/><rect x="234.16" y="597.39" width="1.4" height="1.4"/><rect x="235.94" y="589.84" width="1.4" height="1.4"/><rect x="237.72" y="582.29" width="1.4" height="1.4"/><rect x="239.49" y="574.74" width="1.4" height="1.4"/><rect x="241.27" y="567.19" width="1.4" height="1.4"/><rect x="243.05" y="559.64" width="1.4" height="1.4"/><rect x="244.83" y="552.09" width="1.4" height="1.4"/><rect x="246.6" y="544.54" width="1.4" height="1.4"/><rect x="248.38" y="536.99" width="1.4" height="1.4"/><rect x="250.16" y="529.44" width="1.4" height="1.4"/><rect x="251.93" y="521.89" width="1.4" height="1.4"/><rect x="253.71" y="514.33" width="1.4" height="1.4"/><rect x="255.49" y="506.78" width="1.4" height="1.4"/><rect x="257.27" y="499.23" width="1.4" height="1.4"/><rect x="259.04" y="491.68" width="1.4" height="1.4"/><rect x="260.82" y="484.13" width="1.4" height="1.4"/><rect x="262.6" y="476.58" width="1.4" height="1.4"/><rect x="264.37" y="469.03" width="1.4" height="1.4"/><rect x="266.15" y="461.48" width="1.4" height="1.4"/><rect x="267.93" y="453.93" width="1.4" height="1.4"/><rect x="269.71" y="446.38" width="1.4" height="1.4"/><rect x="271.48" y="438.83" width="1.4" height="1.4"/><rect x="273.26" y="431.28" width="1.4" height="1.4"/><rect x="275.04" y="423.73" width="1.4" height="1.4"/><rect x="276.82" y="416.18" width="1.4" height="1.4"/><rect x="269.2" y="688" width="1.4" height="1.4"/><rect x="270.91" y="680.43" width="1.4" height="1.4"/><rect x="272.62" y="672.87" width="1.4" height="1.4"/><rect x="274.33" y="665.3" width="1.4" height="1.4"/><rect x="276.04" y="657.74" width="1.4" height="1.4"/><rect x="277.75" y="650.17" width="1.4" height="1.4"/><rect x="279.46" y="642.6" width="1.4" height="1.4"/><rect x="281.17" y="635.04" width="1.4" height="1.4"/><rect x="282.88" y="627.47" width="1.4" height="1.4"/><rect x="284.59" y="619.9" width="1.4" height="1.4"/><rect x="286.3" y="612.34" width="1.4" height="1.4"/><rect x="288.01" y="604.77" width="1.4" height="1.4"/><rect x="289.72" y="597.21" width="1.4" height="1.4"/><rect x="291.43" y="589.64" width="1.4" height="1.4"/><rect x="293.14" y="582.07" width="1.4" height="1.4"/><rect x="294.85" y="574.51" width="1.4" height="1.4"/><rect x="296.56" y="566.94" width="1.4" height="1.4"/><rect x="298.27" y="559.38" width="1.4" height="1.4"/><rect x="299.98" y="551.81" width="1.4" height="1.4"/><rect x="301.69" y="544.24" width="1.4" height="1.4"/><rect x="303.4" y="536.68" width="1.4" height="1.4"/><rect x="305.11" y="529.11" width="1.4" height="1.4"/><rect x="306.82" y="521.54" width="1.4" height="1.4"/><rect x="308.53" y="513.98" width="1.4" height="1.4"/><rect x="310.24" y="506.41" width="1.4" height="1.4"/><rect x="311.95" y="498.85" width="1.4" height="1.4"/><rect x="313.66" y="491.28" width="1.4" height="1.4"/><rect x="315.37" y="483.71" width="1.4" height="1.4"/><rect x="317.08" y="476.15" width="1.4" height="1.4"/><rect x="318.79" y="468.58" width="1.4" height="1.4"/><rect x="320.5" y="461.02" width="1.4" height="1.4"/><rect x="322.21" y="453.45" width="1.4" height="1.4"/><rect x="323.92" y="445.88" width="1.4" height="1.4"/><rect x="325.63" y="438.32" width="1.4" height="1.4"/><rect x="327.34" y="430.75" width="1.4" height="1.4"/><rect x="329.05" y="423.18" width="1.4" height="1.4"/><rect x="330.76" y="415.62" width="1.4" height="1.4"/><rect x="304.16" y="688" width="1.4" height="1.4"/><rect x="305.84" y="680.43" width="1.4" height="1.4"/><rect x="307.51" y="672.85" width="1.4" height="1.4"/><rect x="309.19" y="665.28" width="1.4" height="1.4"/><rect x="310.87" y="657.71" width="1.4" height="1.4"/><rect x="312.54" y="650.13" width="1.4" height="1.4"/><rect x="314.22" y="642.56" width="1.4" height="1.4"/><rect x="315.89" y="634.98" width="1.4" height="1.4"/><rect x="317.57" y="627.41" width="1.4" height="1.4"/><rect x="319.25" y="619.84" width="1.4" height="1.4"/><rect x="320.92" y="612.26" width="1.4" height="1.4"/><rect x="322.6" y="604.69" width="1.4" height="1.4"/><rect x="324.28" y="597.12" width="1.4" height="1.4"/><rect x="325.95" y="589.54" width="1.4" height="1.4"/><rect x="327.63" y="581.97" width="1.4" height="1.4"/><rect x="329.3" y="574.39" width="1.4" height="1.4"/><rect x="330.98" y="566.82" width="1.4" height="1.4"/><rect x="332.66" y="559.25" width="1.4" height="1.4"/><rect x="334.33" y="551.67" width="1.4" height="1.4"/><rect x="336.01" y="544.1" width="1.4" height="1.4"/><rect x="337.69" y="536.53" width="1.4" height="1.4"/><rect x="339.36" y="528.95" width="1.4" height="1.4"/><rect x="341.04" y="521.38" width="1.4" height="1.4"/><rect x="342.71" y="513.8" width="1.4" height="1.4"/><rect x="344.39" y="506.23" width="1.4" height="1.4"/><rect x="346.07" y="498.66" width="1.4" height="1.4"/><rect x="347.74" y="491.08" width="1.4" height="1.4"/><rect x="349.42" y="483.51" width="1.4" height="1.4"/><rect x="351.1" y="475.94" width="1.4" height="1.4"/><rect x="352.77" y="468.36" width="1.4" height="1.4"/><rect x="354.45" y="460.79" width="1.4" height="1.4"/><rect x="356.12" y="453.21" width="1.4" height="1.4"/><rect x="357.8" y="445.64" width="1.4" height="1.4"/><rect x="359.48" y="438.07" width="1.4" height="1.4"/><rect x="361.15" y="430.49" width="1.4" height="1.4"/><rect x="362.83" y="422.92" width="1.4" height="1.4"/><rect x="364.51" y="415.35" width="1.4" height="1.4"/><rect x="330.13" y="688" width="1.4" height="1.4"/><rect x="331.77" y="680.42" width="1.4" height="1.4"/><rect x="333.42" y="672.84" width="1.4" height="1.4"/><rect x="335.06" y="665.26" width="1.4" height="1.4"/><rect x="336.7" y="657.68" width="1.4" height="1.4"/><rect x="338.35" y="650.1" width="1.4" height="1.4"/><rect x="339.99" y="642.52" width="1.4" height="1.4"/><rect x="341.64" y="634.93" width="1.4" height="1.4"/><rect x="343.28" y="627.35" width="1.4" height="1.4"/><rect x="344.92" y="619.77" width="1.4" height="1.4"/><rect x="346.57" y="612.19" width="1.4" height="1.4"/><rect x="348.21" y="604.61" width="1.4" height="1.4"/><rect x="349.86" y="597.03" width="1.4" height="1.4"/><rect x="351.5" y="589.45" width="1.4" height="1.4"/><rect x="353.14" y="581.87" width="1.4" height="1.4"/><rect x="354.79" y="574.29" width="1.4" height="1.4"/><rect x="356.43" y="566.71" width="1.4" height="1.4"/><rect x="358.08" y="559.13" width="1.4" height="1.4"/><rect x="359.72" y="551.55" width="1.4" height="1.4"/><rect x="361.37" y="543.97" width="1.4" height="1.4"/><rect x="363.01" y="536.38" width="1.4" height="1.4"/><rect x="364.65" y="528.8" width="1.4" height="1.4"/><rect x="366.3" y="521.22" width="1.4" height="1.4"/><rect x="367.94" y="513.64" width="1.4" height="1.4"/><rect x="369.59" y="506.06" width="1.4" height="1.4"/><rect x="371.23" y="498.48" width="1.4" height="1.4"/><rect x="372.87" y="490.9" width="1.4" height="1.4"/><rect x="374.52" y="483.32" width="1.4" height="1.4"/><rect x="376.16" y="475.74" width="1.4" height="1.4"/><rect x="377.81" y="468.16" width="1.4" height="1.4"/><rect x="379.45" y="460.58" width="1.4" height="1.4"/><rect x="381.1" y="453" width="1.4" height="1.4"/><rect x="382.74" y="445.42" width="1.4" height="1.4"/><rect x="384.38" y="437.84" width="1.4" height="1.4"/><rect x="386.03" y="430.25" width="1.4" height="1.4"/><rect x="387.67" y="422.67" width="1.4" height="1.4"/><rect x="389.32" y="415.09" width="1.4" height="1.4"/><rect x="368.47" y="688" width="1.4" height="1.4"/><rect x="370.06" y="680.41" width="1.4" height="1.4"/><rect x="371.64" y="672.81" width="1.4" height="1.4"/><rect x="373.22" y="665.22" width="1.4" height="1.4"/><rect x="374.8" y="657.62" width="1.4" height="1.4"/><rect x="376.39" y="650.03" width="1.4" height="1.4"/><rect x="377.97" y="642.44" width="1.4" height="1.4"/><rect x="379.55" y="634.84" width="1.4" height="1.4"/><rect x="381.13" y="627.25" width="1.4" height="1.4"/><rect x="382.72" y="619.66" width="1.4" height="1.4"/><rect x="384.3" y="612.06" width="1.4" height="1.4"/><rect x="385.88" y="604.47" width="1.4" height="1.4"/><rect x="387.47" y="596.87" width="1.4" height="1.4"/><rect x="389.05" y="589.28" width="1.4" height="1.4"/><rect x="390.63" y="581.69" width="1.4" height="1.4"/><rect x="392.21" y="574.09" width="1.4" height="1.4"/><rect x="393.8" y="566.5" width="1.4" height="1.4"/><rect x="395.38" y="558.9" width="1.4" height="1.4"/><rect x="396.96" y="551.31" width="1.4" height="1.4"/><rect x="398.54" y="543.72" width="1.4" height="1.4"/><rect x="400.13" y="536.12" width="1.4" height="1.4"/><rect x="401.71" y="528.53" width="1.4" height="1.4"/><rect x="403.29" y="520.94" width="1.4" height="1.4"/><rect x="404.87" y="513.34" width="1.4" height="1.4"/><rect x="406.46" y="505.75" width="1.4" height="1.4"/><rect x="408.04" y="498.15" width="1.4" height="1.4"/><rect x="409.62" y="490.56" width="1.4" height="1.4"/><rect x="411.2" y="482.97" width="1.4" height="1.4"/><rect x="412.79" y="475.37" width="1.4" height="1.4"/><rect x="414.37" y="467.78" width="1.4" height="1.4"/><rect x="415.95" y="460.18" width="1.4" height="1.4"/><rect x="417.53" y="452.59" width="1.4" height="1.4"/><rect x="419.12" y="445" width="1.4" height="1.4"/><rect x="420.7" y="437.4" width="1.4" height="1.4"/><rect x="422.28" y="429.81" width="1.4" height="1.4"/><rect x="423.86" y="422.22" width="1.4" height="1.4"/><rect x="425.45" y="414.62" width="1.4" height="1.4"/><rect x="396.81" y="688" width="1.4" height="1.4"/><rect x="398.34" y="680.4" width="1.4" height="1.4"/><rect x="399.88" y="672.79" width="1.4" height="1.4"/><rect x="401.41" y="665.19" width="1.4" height="1.4"/><rect x="402.95" y="657.59" width="1.4" height="1.4"/><rect x="404.48" y="649.98" width="1.4" height="1.4"/><rect x="406.02" y="642.38" width="1.4" height="1.4"/><rect x="407.55" y="634.77" width="1.4" height="1.4"/><rect x="409.09" y="627.17" width="1.4" height="1.4"/><rect x="410.62" y="619.57" width="1.4" height="1.4"/><rect x="412.16" y="611.96" width="1.4" height="1.4"/><rect x="413.69" y="604.36" width="1.4" height="1.4"/><rect x="415.23" y="596.76" width="1.4" height="1.4"/><rect x="416.76" y="589.15" width="1.4" height="1.4"/><rect x="418.29" y="581.55" width="1.4" height="1.4"/><rect x="419.83" y="573.95" width="1.4" height="1.4"/><rect x="421.36" y="566.34" width="1.4" height="1.4"/><rect x="422.9" y="558.74" width="1.4" height="1.4"/><rect x="424.43" y="551.13" width="1.4" height="1.4"/><rect x="425.97" y="543.53" width="1.4" height="1.4"/><rect x="427.5" y="535.93" width="1.4" height="1.4"/><rect x="429.04" y="528.32" width="1.4" height="1.4"/><rect x="430.57" y="520.72" width="1.4" height="1.4"/><rect x="432.11" y="513.12" width="1.4" height="1.4"/><rect x="433.64" y="505.51" width="1.4" height="1.4"/><rect x="435.18" y="497.91" width="1.4" height="1.4"/><rect x="436.71" y="490.31" width="1.4" height="1.4"/><rect x="438.25" y="482.7" width="1.4" height="1.4"/><rect x="439.78" y="475.1" width="1.4" height="1.4"/><rect x="441.32" y="467.49" width="1.4" height="1.4"/><rect x="442.85" y="459.89" width="1.4" height="1.4"/><rect x="444.39" y="452.29" width="1.4" height="1.4"/><rect x="445.92" y="444.68" width="1.4" height="1.4"/><rect x="447.46" y="437.08" width="1.4" height="1.4"/><rect x="448.99" y="429.48" width="1.4" height="1.4"/><rect x="450.53" y="421.87" width="1.4" height="1.4"/><rect x="452.06" y="414.27" width="1.4" height="1.4"/><rect x="419.41" y="688" width="1.4" height="1.4"/><rect x="420.91" y="680.39" width="1.4" height="1.4"/><rect x="422.42" y="672.78" width="1.4" height="1.4"/><rect x="423.92" y="665.17" width="1.4" height="1.4"/><rect x="425.42" y="657.56" width="1.4" height="1.4"/><rect x="426.92" y="649.95" width="1.4" height="1.4"/><rect x="428.42" y="642.34" width="1.4" height="1.4"/><rect x="429.92" y="634.73" width="1.4" height="1.4"/><rect x="431.42" y="627.12" width="1.4" height="1.4"/><rect x="432.92" y="619.51" width="1.4" height="1.4"/><rect x="434.42" y="611.9" width="1.4" height="1.4"/><rect x="435.92" y="604.28" width="1.4" height="1.4"/><rect x="437.42" y="596.67" width="1.4" height="1.4"/><rect x="438.92" y="589.06" width="1.4" height="1.4"/><rect x="440.42" y="581.45" width="1.4" height="1.4"/><rect x="441.92" y="573.84" width="1.4" height="1.4"/><rect x="443.42" y="566.23" width="1.4" height="1.4"/><rect x="444.92" y="558.62" width="1.4" height="1.4"/><rect x="446.42" y="551.01" width="1.4" height="1.4"/><rect x="447.92" y="543.4" width="1.4" height="1.4"/><rect x="449.42" y="535.79" width="1.4" height="1.4"/><rect x="450.92" y="528.18" width="1.4" height="1.4"/><rect x="452.43" y="520.57" width="1.4" height="1.4"/><rect x="453.93" y="512.96" width="1.4" height="1.4"/><rect x="455.43" y="505.35" width="1.4" height="1.4"/><rect x="456.93" y="497.74" width="1.4" height="1.4"/><rect x="458.43" y="490.13" width="1.4" height="1.4"/><rect x="459.93" y="482.52" width="1.4" height="1.4"/><rect x="461.43" y="474.91" width="1.4" height="1.4"/><rect x="462.93" y="467.3" width="1.4" height="1.4"/><rect x="464.43" y="459.69" width="1.4" height="1.4"/><rect x="465.93" y="452.07" width="1.4" height="1.4"/><rect x="467.43" y="444.46" width="1.4" height="1.4"/><rect x="468.93" y="436.85" width="1.4" height="1.4"/><rect x="470.43" y="429.24" width="1.4" height="1.4"/><rect x="471.93" y="421.63" width="1.4" height="1.4"/><rect x="473.43" y="414.02" width="1.4" height="1.4"/><rect x="461.99" y="688" width="1.4" height="1.4"/><rect x="463.43" y="680.38" width="1.4" height="1.4"/><rect x="464.86" y="672.75" width="1.4" height="1.4"/><rect x="466.3" y="665.13" width="1.4" height="1.4"/><rect x="467.73" y="657.51" width="1.4" height="1.4"/><rect x="469.17" y="649.88" width="1.4" height="1.4"/><rect x="470.6" y="642.26" width="1.4" height="1.4"/><rect x="472.04" y="634.64" width="1.4" height="1.4"/><rect x="473.47" y="627.01" width="1.4" height="1.4"/><rect x="474.91" y="619.39" width="1.4" height="1.4"/><rect x="476.34" y="611.77" width="1.4" height="1.4"/><rect x="477.78" y="604.15" width="1.4" height="1.4"/><rect x="479.21" y="596.52" width="1.4" height="1.4"/><rect x="480.65" y="588.9" width="1.4" height="1.4"/><rect x="482.08" y="581.28" width="1.4" height="1.4"/><rect x="483.52" y="573.65" width="1.4" height="1.4"/><rect x="484.95" y="566.03" width="1.4" height="1.4"/><rect x="486.39" y="558.41" width="1.4" height="1.4"/><rect x="487.82" y="550.78" width="1.4" height="1.4"/><rect x="489.26" y="543.16" width="1.4" height="1.4"/><rect x="490.69" y="535.54" width="1.4" height="1.4"/><rect x="492.12" y="527.91" width="1.4" height="1.4"/><rect x="493.56" y="520.29" width="1.4" height="1.4"/><rect x="494.99" y="512.67" width="1.4" height="1.4"/><rect x="496.43" y="505.04" width="1.4" height="1.4"/><rect x="497.86" y="497.42" width="1.4" height="1.4"/><rect x="499.3" y="489.8" width="1.4" height="1.4"/><rect x="500.73" y="482.17" width="1.4" height="1.4"/><rect x="502.17" y="474.55" width="1.4" height="1.4"/><rect x="503.6" y="466.93" width="1.4" height="1.4"/><rect x="505.04" y="459.31" width="1.4" height="1.4"/><rect x="506.47" y="451.68" width="1.4" height="1.4"/><rect x="507.91" y="444.06" width="1.4" height="1.4"/><rect x="509.34" y="436.44" width="1.4" height="1.4"/><rect x="510.78" y="428.81" width="1.4" height="1.4"/><rect x="512.21" y="421.19" width="1.4" height="1.4"/><rect x="513.65" y="413.57" width="1.4" height="1.4"/><rect x="493.27" y="688" width="1.4" height="1.4"/><rect x="494.67" y="680.37" width="1.4" height="1.4"/><rect x="496.06" y="672.74" width="1.4" height="1.4"/><rect x="497.45" y="665.11" width="1.4" height="1.4"/><rect x="498.85" y="657.48" width="1.4" height="1.4"/><rect x="500.24" y="649.85" width="1.4" height="1.4"/><rect x="501.63" y="642.22" width="1.4" height="1.4"/><rect x="503.03" y="634.58" width="1.4" height="1.4"/><rect x="504.42" y="626.95" width="1.4" height="1.4"/><rect x="505.82" y="619.32" width="1.4" height="1.4"/><rect x="507.21" y="611.69" width="1.4" height="1.4"/><rect x="508.6" y="604.06" width="1.4" height="1.4"/><rect x="510" y="596.43" width="1.4" height="1.4"/><rect x="511.39" y="588.8" width="1.4" height="1.4"/><rect x="512.78" y="581.17" width="1.4" height="1.4"/><rect x="514.18" y="573.54" width="1.4" height="1.4"/><rect x="515.57" y="565.91" width="1.4" height="1.4"/><rect x="516.96" y="558.28" width="1.4" height="1.4"/><rect x="518.36" y="550.65" width="1.4" height="1.4"/><rect x="519.75" y="543.02" width="1.4" height="1.4"/><rect x="521.15" y="535.38" width="1.4" height="1.4"/><rect x="522.54" y="527.75" width="1.4" height="1.4"/><rect x="523.93" y="520.12" width="1.4" height="1.4"/><rect x="525.33" y="512.49" width="1.4" height="1.4"/><rect x="526.72" y="504.86" width="1.4" height="1.4"/><rect x="528.11" y="497.23" width="1.4" height="1.4"/><rect x="529.51" y="489.6" width="1.4" height="1.4"/><rect x="530.9" y="481.97" width="1.4" height="1.4"/><rect x="532.29" y="474.34" width="1.4" height="1.4"/><rect x="533.69" y="466.71" width="1.4" height="1.4"/><rect x="535.08" y="459.08" width="1.4" height="1.4"/><rect x="536.47" y="451.45" width="1.4" height="1.4"/><rect x="537.87" y="443.81" width="1.4" height="1.4"/><rect x="539.26" y="436.18" width="1.4" height="1.4"/><rect x="540.66" y="428.55" width="1.4" height="1.4"/><rect x="542.05" y="420.92" width="1.4" height="1.4"/><rect x="543.44" y="413.29" width="1.4" height="1.4"/><rect x="518.52" y="688" width="1.4" height="1.4"/><rect x="519.86" y="680.36" width="1.4" height="1.4"/><rect x="521.21" y="672.72" width="1.4" height="1.4"/><rect x="522.56" y="665.08" width="1.4" height="1.4"/><rect x="523.91" y="657.44" width="1.4" height="1.4"/><rect x="525.26" y="649.81" width="1.4" height="1.4"/><rect x="526.6" y="642.17" width="1.4" height="1.4"/><rect x="527.95" y="634.53" width="1.4" height="1.4"/><rect x="529.3" y="626.89" width="1.4" height="1.4"/><rect x="530.65" y="619.25" width="1.4" height="1.4"/><rect x="532" y="611.61" width="1.4" height="1.4"/><rect x="533.35" y="603.97" width="1.4" height="1.4"/><rect x="534.69" y="596.33" width="1.4" height="1.4"/><rect x="536.04" y="588.69" width="1.4" height="1.4"/><rect x="537.39" y="581.05" width="1.4" height="1.4"/><rect x="538.74" y="573.42" width="1.4" height="1.4"/><rect x="540.09" y="565.78" width="1.4" height="1.4"/><rect x="541.43" y="558.14" width="1.4" height="1.4"/><rect x="542.78" y="550.5" width="1.4" height="1.4"/><rect x="544.13" y="542.86" width="1.4" height="1.4"/><rect x="545.48" y="535.22" width="1.4" height="1.4"/><rect x="546.83" y="527.58" width="1.4" height="1.4"/><rect x="548.18" y="519.94" width="1.4" height="1.4"/><rect x="549.52" y="512.3" width="1.4" height="1.4"/><rect x="550.87" y="504.67" width="1.4" height="1.4"/><rect x="552.22" y="497.03" width="1.4" height="1.4"/><rect x="553.57" y="489.39" width="1.4" height="1.4"/><rect x="554.92" y="481.75" width="1.4" height="1.4"/><rect x="556.26" y="474.11" width="1.4" height="1.4"/><rect x="557.61" y="466.47" width="1.4" height="1.4"/><rect x="558.96" y="458.83" width="1.4" height="1.4"/><rect x="560.31" y="451.19" width="1.4" height="1.4"/><rect x="561.66" y="443.55" width="1.4" height="1.4"/><rect x="563.01" y="435.91" width="1.4" height="1.4"/><rect x="564.35" y="428.28" width="1.4" height="1.4"/><rect x="565.7" y="420.64" width="1.4" height="1.4"/><rect x="567.05" y="413" width="1.4" height="1.4"/><rect x="539.9" y="688" width="1.4" height="1.4"/><rect x="541.2" y="680.35" width="1.4" height="1.4"/><rect x="542.51" y="672.71" width="1.4" height="1.4"/><rect x="543.81" y="665.06" width="1.4" height="1.4"/><rect x="545.11" y="657.41" width="1.4" height="1.4"/><rect x="546.42" y="649.77" width="1.4" height="1.4"/><rect x="547.72" y="642.12" width="1.4" height="1.4"/><rect x="549.02" y="634.47" width="1.4" height="1.4"/><rect x="550.33" y="626.83" width="1.4" height="1.4"/><rect x="551.63" y="619.18" width="1.4" height="1.4"/><rect x="552.93" y="611.53" width="1.4" height="1.4"/><rect x="554.24" y="603.89" width="1.4" height="1.4"/><rect x="555.54" y="596.24" width="1.4" height="1.4"/><rect x="556.85" y="588.59" width="1.4" height="1.4"/><rect x="558.15" y="580.95" width="1.4" height="1.4"/><rect x="559.45" y="573.3" width="1.4" height="1.4"/><rect x="560.76" y="565.65" width="1.4" height="1.4"/><rect x="562.06" y="558.01" width="1.4" height="1.4"/><rect x="563.36" y="550.36" width="1.4" height="1.4"/><rect x="564.67" y="542.71" width="1.4" height="1.4"/><rect x="565.97" y="535.07" width="1.4" height="1.4"/><rect x="567.27" y="527.42" width="1.4" height="1.4"/><rect x="568.58" y="519.77" width="1.4" height="1.4"/><rect x="569.88" y="512.13" width="1.4" height="1.4"/><rect x="571.18" y="504.48" width="1.4" height="1.4"/><rect x="572.49" y="496.83" width="1.4" height="1.4"/><rect x="573.79" y="489.19" width="1.4" height="1.4"/><rect x="575.09" y="481.54" width="1.4" height="1.4"/><rect x="576.4" y="473.89" width="1.4" height="1.4"/><rect x="577.7" y="466.25" width="1.4" height="1.4"/><rect x="579" y="458.6" width="1.4" height="1.4"/><rect x="580.31" y="450.95" width="1.4" height="1.4"/><rect x="581.61" y="443.31" width="1.4" height="1.4"/><rect x="582.91" y="435.66" width="1.4" height="1.4"/><rect x="584.22" y="428.01" width="1.4" height="1.4"/><rect x="585.52" y="420.37" width="1.4" height="1.4"/><rect x="586.82" y="412.72" width="1.4" height="1.4"/><rect x="558.21" y="688" width="1.4" height="1.4"/><rect x="559.48" y="680.35" width="1.4" height="1.4"/><rect x="560.75" y="672.69" width="1.4" height="1.4"/><rect x="562.02" y="665.04" width="1.4" height="1.4"/><rect x="563.29" y="657.39" width="1.4" height="1.4"/><rect x="564.55" y="649.74" width="1.4" height="1.4"/><rect x="565.82" y="642.08" width="1.4" height="1.4"/><rect x="567.09" y="634.43" width="1.4" height="1.4"/><rect x="568.36" y="626.78" width="1.4" height="1.4"/><rect x="569.63" y="619.13" width="1.4" height="1.4"/><rect x="570.9" y="611.47" width="1.4" height="1.4"/><rect x="572.17" y="603.82" width="1.4" height="1.4"/><rect x="573.44" y="596.17" width="1.4" height="1.4"/><rect x="574.7" y="588.52" width="1.4" height="1.4"/><rect x="575.97" y="580.86" width="1.4" height="1.4"/><rect x="577.24" y="573.21" width="1.4" height="1.4"/><rect x="578.51" y="565.56" width="1.4" height="1.4"/><rect x="579.78" y="557.91" width="1.4" height="1.4"/><rect x="581.05" y="550.25" width="1.4" height="1.4"/><rect x="582.32" y="542.6" width="1.4" height="1.4"/><rect x="583.59" y="534.95" width="1.4" height="1.4"/><rect x="584.85" y="527.3" width="1.4" height="1.4"/><rect x="586.12" y="519.64" width="1.4" height="1.4"/><rect x="587.39" y="511.99" width="1.4" height="1.4"/><rect x="588.66" y="504.34" width="1.4" height="1.4"/><rect x="574.28" y="688" width="1.4" height="1.4"/><rect x="575.52" y="680.34" width="1.4" height="1.4"/><rect x="576.76" y="672.69" width="1.4" height="1.4"/><rect x="578" y="665.03" width="1.4" height="1.4"/><rect x="579.24" y="657.37" width="1.4" height="1.4"/><rect x="580.48" y="649.71" width="1.4" height="1.4"/><rect x="581.72" y="642.06" width="1.4" height="1.4"/><rect x="582.96" y="634.4" width="1.4" height="1.4"/><rect x="584.2" y="626.74" width="1.4" height="1.4"/><rect x="585.44" y="619.08" width="1.4" height="1.4"/><rect x="586.68" y="611.43" width="1.4" height="1.4"/><rect x="587.92" y="603.77" width="1.4" height="1.4"/><rect x="589.16" y="596.11" width="1.4" height="1.4"/></g>
</g>
<g stroke="#000" stroke-width="2"><line x1="58" y1="42.89" x2="591.0" y2="42.89"/><line x1="58" y1="125.05" x2="591.0" y2="125.05"/><line x1="58" y1="196.21" x2="591.0" y2="196.21"/><line x1="58" y1="258.99" x2="591.0" y2="258.99"/><line x1="58" y1="315.14" x2="591.0" y2="315.14"/><line x1="58" y1="365.93" x2="591.0" y2="365.93"/><line x1="58" y1="412.31" x2="591.0" y2="412.31"/><line x1="58" y1="454.96" x2="591.0" y2="454.96"/><line x1="58" y1="494.46" x2="591.0" y2="494.46"/><line x1="58" y1="531.23" x2="591.0" y2="531.23"/><line x1="58" y1="565.63" x2="591.0" y2="565.63"/><line x1="58" y1="597.94" x2="591.0" y2="597.94"/><line x1="58" y1="628.4" x2="591.0" y2="628.4"/><line x1="58" y1="657.21" x2="591.0" y2="657.21"/><line x1="58" y1="684.55" x2="591.0" y2="684.55"/></g>
<g clip-path="url(#pc)" fill="none" stroke-linejoin="round">
<polyline points="181.8,47.2 211,125 238.8,196.2 262.5,258.8 284,315 301.6,366 317.2,412 330.6,455 342.2,494.3 351,531.1 359.2,565.8 365.9,597.7 373,628.2 377.3,656.8 380.4,670.1" stroke="#a8a8a8" stroke-width="2.4"/>
<polyline points="383,673.2 390.1,684.7" stroke="#a8a8a8" stroke-width="2.4"/>
<polyline points="200.8,42.9 224.6,125 208,196.2 214.1,258.8 246.4,315 261.9,366 261.7,412 293.6,455 329,494.3 329,531.1 307.3,565.8 320.7,597.7 341.5,628.2 350.7,642 366.8,656.8 376.3,670.1 377.9,684.7 376.6,690.1" stroke="#1a2cff" stroke-width="2.6"/>
<polyline points="238.6,42.9 255.8,125 276.5,196.2 292.6,258.8 311.8,315 329.6,366 343.8,412 356,455 364,494.3 373.8,531.1 383.7,565.8 390.4,597.7 395.6,628.2 399.5,656.8 401.7,670.6 399.3,684.7 392.7,690.1" stroke="#ff3333" stroke-width="2.6"/>
</g>
<rect x="386.3" y="45.6" width="204" height="95.9" fill="#fff" stroke="none"/>
<line x1="386.5" y1="43" x2="386.5" y2="137.6" stroke="#222" stroke-width="1.2"/>
<line x1="386" y1="137.6" x2="590" y2="137.6" stroke="#666" stroke-width="1.2"/>
<line x1="391" y1="52.5" x2="409" y2="52.5" stroke="#ff3333" stroke-width="2.6" stroke-linecap="round"/>
<line x1="391" y1="65.43" x2="409" y2="65.43" stroke="#1a2cff" stroke-width="2.6" stroke-linecap="round"/>
<line x1="391" y1="78.36" x2="409" y2="78.36" stroke="#a8a8a8" stroke-width="2.6" stroke-linecap="round"/>
<line x1="391" y1="91.29" x2="409" y2="91.29" stroke="#f0822a" stroke-width="1.2" stroke-linecap="round"/>
<line x1="391" y1="104.22" x2="409" y2="104.22" stroke="#22d422" stroke-width="1.2" stroke-linecap="round"/>
<line x1="391" y1="117.15" x2="409" y2="117.15" stroke="#1e96ff" stroke-width="1.2" stroke-linecap="round"/>
<line x1="391" y1="130.08" x2="409" y2="130.08" stroke="#e8229a" stroke-width="1.6" stroke-linecap="round" stroke-dasharray="1.4 5"/>
<rect x="64.0" y="43.0" width="527.0" height="647.0" fill="none" stroke="#000" stroke-width="2"/>
<line x1="681.8" y1="42" x2="681.8" y2="690.5" stroke="#555" stroke-width="1.6"/><g stroke="#7000e0" stroke-width="1.3" fill="none" stroke-linecap="round"><line x1="681.6" y1="43" x2="713.6" y2="48.5"/><line x1="699.7" y1="46.2" x2="697.2" y2="58.6"/><line x1="704" y1="46.9" x2="701.4" y2="59.6"/><line x1="708.6" y1="47.7" x2="706.3" y2="60.7"/><line x1="713.2" y1="48.5" x2="710.5" y2="61.3"/></g><rect x="679.7" y="41.1" width="3.8" height="3.8" fill="#7000e0"/><g stroke="#1092ff" stroke-width="1.3" fill="none" stroke-linecap="round"><line x1="682" y1="196.2" x2="713.6" y2="199.5"/><line x1="704.2" y1="198.6" x2="702.7" y2="211.4"/><line x1="708.4" y1="199" x2="707.5" y2="212.3"/><line x1="713.4" y1="199.5" x2="712" y2="212.5"/></g><rect x="680.1" y="194.29999999999998" width="3.8" height="3.8" fill="#1092ff"/><g stroke="#10d010" stroke-width="1.3" fill="none" stroke-linecap="round"><line x1="682" y1="315.1" x2="713.6" y2="313.4"/><line x1="713.6" y1="313.4" x2="714.4" y2="326.6"/><line x1="709.4" y1="313.8" x2="709.4" y2="320.3"/></g><rect x="680.1" y="313.20000000000005" width="3.8" height="3.8" fill="#10d010"/><g stroke="#e6dc2a" stroke-width="1.3" fill="none" stroke-linecap="round"><line x1="682" y1="494.6" x2="674.2" y2="465.1"/><line x1="675.3" y1="469" x2="681.7" y2="467.8"/></g><rect x="680.1" y="492.70000000000005" width="3.8" height="3.8" fill="#e6dc2a"/><g stroke="#e6dc2a" stroke-width="1.3" fill="none" stroke-linecap="round"><line x1="682" y1="598.1" x2="662.2" y2="574.3"/><line x1="665.7" y1="577.2" x2="670.3" y2="573.7"/></g><rect x="680.1" y="596.2" width="3.8" height="3.8" fill="#e6dc2a"/><g stroke="#e6dc2a" stroke-width="1.3" fill="none" stroke-linecap="round"><line x1="682" y1="628.2" x2="663.3" y2="603.9"/><line x1="666.5" y1="607.7" x2="671.3" y2="603.5"/></g><rect x="680.1" y="626.3000000000001" width="3.8" height="3.8" fill="#e6dc2a"/><g stroke="#e6dc2a" stroke-width="1.3" fill="none" stroke-linecap="round"><line x1="682" y1="643" x2="662.8" y2="618.6"/><line x1="666.2" y1="622" x2="671" y2="618"/></g><rect x="680.1" y="641.1" width="3.8" height="3.8" fill="#e6dc2a"/><g stroke="#e6dc2a" stroke-width="1.3" fill="none" stroke-linecap="round"><line x1="682" y1="684.7" x2="659.1" y2="663.2"/><line x1="662.7" y1="666.2" x2="667.3" y2="661.6"/></g><rect x="680.1" y="682.8000000000001" width="3.8" height="3.8" fill="#e6dc2a"/><g stroke="#e6dc2a" stroke-width="1.3" fill="none" stroke-linecap="round"><line x1="682" y1="690" x2="660.2" y2="667.5"/><line x1="665.1" y1="669.2" x2="668.7" y2="666.5"/></g><rect x="680.1" y="688.1" width="3.8" height="3.8" fill="#e6dc2a"/>
<g clip-path="url(#hc)"><ellipse cx="818.05" cy="129.15" rx="30.29" ry="28.68" fill="none" stroke="#8c8c8c" stroke-width="1"/><ellipse cx="818.05" cy="129.15" rx="60.57" ry="57.36" fill="none" stroke="#8c8c8c" stroke-width="1"/><ellipse cx="818.05" cy="129.15" rx="90.86" ry="86.04" fill="none" stroke="#8c8c8c" stroke-width="1"/></g><line x1="727.2" y1="129.15" x2="908.9" y2="129.15" stroke="#000" stroke-width="1.5"/><line x1="818.05" y1="43.1" x2="818.05" y2="215.2" stroke="#000" stroke-width="1.5"/><g stroke="#000" stroke-width="1.5"><line x1="737.29" y1="127.05" x2="737.29" y2="131.25"/><line x1="815.85" y1="205.63" x2="820.25" y2="205.63"/><line x1="747.38" y1="127.05" x2="747.38" y2="131.25"/><line x1="815.85" y1="196.07" x2="820.25" y2="196.07"/><line x1="757.48" y1="127.05" x2="757.48" y2="131.25"/><line x1="815.85" y1="186.51" x2="820.25" y2="186.51"/><line x1="767.57" y1="127.05" x2="767.57" y2="131.25"/><line x1="815.85" y1="176.95" x2="820.25" y2="176.95"/><line x1="777.67" y1="127.05" x2="777.67" y2="131.25"/><line x1="815.85" y1="167.39" x2="820.25" y2="167.39"/><line x1="787.76" y1="127.05" x2="787.76" y2="131.25"/><line x1="815.85" y1="157.83" x2="820.25" y2="157.83"/><line x1="797.86" y1="127.05" x2="797.86" y2="131.25"/><line x1="815.85" y1="148.27" x2="820.25" y2="148.27"/><line x1="807.95" y1="127.05" x2="807.95" y2="131.25"/><line x1="815.85" y1="138.71" x2="820.25" y2="138.71"/><line x1="828.14" y1="127.05" x2="828.14" y2="131.25"/><line x1="815.85" y1="119.59" x2="820.25" y2="119.59"/><line x1="838.24" y1="127.05" x2="838.24" y2="131.25"/><line x1="815.85" y1="110.03" x2="820.25" y2="110.03"/><line x1="848.33" y1="127.05" x2="848.33" y2="131.25"/><line x1="815.85" y1="100.47" x2="820.25" y2="100.47"/><line x1="858.43" y1="127.05" x2="858.43" y2="131.25"/><line x1="815.85" y1="90.91" x2="820.25" y2="90.91"/><line x1="868.52" y1="127.05" x2="868.52" y2="131.25"/><line x1="815.85" y1="81.35" x2="820.25" y2="81.35"/><line x1="878.62" y1="127.05" x2="878.62" y2="131.25"/><line x1="815.85" y1="71.79" x2="820.25" y2="71.79"/><line x1="888.71" y1="127.05" x2="888.71" y2="131.25"/><line x1="815.85" y1="62.23" x2="820.25" y2="62.23"/><line x1="898.81" y1="127.05" x2="898.81" y2="131.25"/><line x1="815.85" y1="52.67" x2="820.25" y2="52.67"/></g><rect x="727.2" y="43.1" width="181.7" height="172.1" fill="none" stroke="#000" stroke-width="2"/><text transform="translate(797,149.5) rotate(-45)" font-size="14" fill="#999" text-anchor="middle" dy="5" style="stroke:none">15</text><text transform="translate(775.5,170.2) rotate(-45)" font-size="14" fill="#999" text-anchor="middle" dy="5" style="stroke:none">30</text><text transform="translate(754.8,189.5) rotate(-45)" font-size="14" fill="#999" text-anchor="middle" dy="5" style="stroke:none">45</text><text transform="translate(732.9,56.3) scale(1.2,1)" font-size="12.5" fill="#000">kt</text><polyline points="757.9,123.05 787.8,130.25 818.4,133.6 822.9,134.75 826.5,140.2" fill="none" stroke="#000" stroke-width="1.6"/><rect x="756.1" y="121.2" width="3.7" height="3.7" fill="#000"/><polygon points="821.2,133.2 824.8,134.2 823.2,137.2" fill="#000"/><polygon points="805.8,124 814.8,123.5 811.2,130.25" fill="#000"/><line x1="811" y1="126" x2="818" y2="129.2" stroke="#000" stroke-width="1.2"/>
<rect x="727.2" y="232.5" width="199.9" height="470.2" fill="none" stroke="#111" stroke-width="1.4"/><line x1="727.2" y1="301.8" x2="927.1" y2="301.8" stroke="#111" stroke-width="1.4"/><line x1="727.2" y1="456.3" x2="927.1" y2="456.3" stroke="#111" stroke-width="1.4"/><line x1="727.2" y1="590.9" x2="927.1" y2="590.9" stroke="#111" stroke-width="1.4"/>
<text x="30.7" y="18.8" font-size="16" fill="#000" textLength="30.3" lengthAdjust="spacing">hPa</text><text transform="translate(271,28.4) scale(1.2,1)" font-size="19" style="stroke:none" textLength="38.3" lengthAdjust="spacing">82m</text><text x="92.8" y="28.4" font-size="19" fill="#000" textLength="81.2" lengthAdjust="spacing" style="stroke:none">39°33′N</text><text x="189.5" y="28.4" font-size="19" fill="#000" textLength="67.5" lengthAdjust="spacing" style="stroke:none">2°44′E</text><text x="332" y="28.4" font-size="19" fill="#000" textLength="37.8" lengthAdjust="spacing" style="stroke:none">ASL</text><text transform="translate(596.3,18.8) scale(1.2,1)" font-size="14.5" textLength="19.6" lengthAdjust="spacing">km</text><text x="596.5" y="39.9" font-size="14.5" fill="#000" textLength="28.8" lengthAdjust="spacing">ASL</text><text x="651.4" y="28.8" font-size="19" fill="#000" textLength="121.6" lengthAdjust="spacing" style="stroke:none">30.12.2025</text><text x="787.6" y="28.8" font-size="19" fill="#000" textLength="67.2" lengthAdjust="spacing" style="stroke:none">06GMT</text><text x="869.5" y="28.8" font-size="19" fill="#000" textLength="56.3" lengthAdjust="spacing" style="stroke:none">(Base</text><text x="930" y="28.8" font-size="19" fill="#000" style="stroke:none">:</text><text x="950.3" y="28.8" font-size="19" fill="#000" textLength="23.1" lengthAdjust="spacing" style="stroke:none">00</text><text x="977.6" y="28.8" font-size="19" fill="#000" style="stroke:none">)</text><text x="935" y="28.4" font-size="18.5" fill="none" style="stroke:#cfcfcf;stroke-width:0.7px;stroke-dasharray:1 1" textLength="55" lengthAdjust="spacing">: 00)</text><text x="28" y="49.69" font-size="17" fill="#000" textLength="26.2" lengthAdjust="spacing" style="stroke:none">300</text><text x="28" y="131.85" font-size="17" fill="#000" textLength="26.2" lengthAdjust="spacing" style="stroke:none">350</text><text x="28" y="203.01" font-size="17" fill="#000" textLength="26.2" lengthAdjust="spacing" style="stroke:none">400</text><text x="28" y="265.79" font-size="17" fill="#000" textLength="26.2" lengthAdjust="spacing" style="stroke:none">450</text><text x="28" y="321.94" font-size="17" fill="#000" textLength="26.2" lengthAdjust="spacing" style="stroke:none">500</text><text x="28" y="372.73" font-size="17" fill="#000" textLength="26.2" lengthAdjust="spacing" style="stroke:none">550</text><text x="28" y="419.11" font-size="17" fill="#000" textLength="26.2" lengthAdjust="spacing" style="stroke:none">600</text><text x="28" y="461.76" font-size="17" fill="#000" textLength="26.2" lengthAdjust="spacing" style="stroke:none">650</text><text x="28" y="501.26" font-size="17" fill="#000" textLength="26.2" lengthAdjust="spacing" style="stroke:none">700</text><text x="28" y="538.03" font-size="17" fill="#000" textLength="26.2" lengthAdjust="spacing" style="stroke:none">750</text><text x="28" y="572.43" font-size="17" fill="#000" textLength="26.2" lengthAdjust="spacing" style="stroke:none">800</text><text x="28" y="604.74" font-size="17" fill="#000" textLength="26.2" lengthAdjust="spacing" style="stroke:none">850</text><text x="28" y="635.2" font-size="17" fill="#000" textLength="26.2" lengthAdjust="spacing" style="stroke:none">900</text><text x="28" y="664.01" font-size="17" fill="#000" textLength="26.2" lengthAdjust="spacing" style="stroke:none">950</text><text x="19.2" y="691.35" font-size="17" fill="#000" textLength="35" lengthAdjust="spacing" style="stroke:none">1000</text><line x1="106" y1="703.4" x2="116.8" y2="703.4" stroke="#000" stroke-width="1.3"/><text x="120.4" y="708.6" font-size="17" fill="#000" textLength="20.4" lengthAdjust="spacing" style="stroke:none">30</text><line x1="171.7" y1="703.4" x2="182.5" y2="703.4" stroke="#000" stroke-width="1.3"/><text x="186.1" y="708.6" font-size="17" fill="#000" textLength="20.4" lengthAdjust="spacing" style="stroke:none">20</text><line x1="237.4" y1="703.4" x2="248.2" y2="703.4" stroke="#000" stroke-width="1.3"/><text x="251.8" y="708.6" font-size="17" fill="#000" textLength="20.4" lengthAdjust="spacing" style="stroke:none">10</text><text x="315.55" y="708.6" font-size="17" fill="#000" textLength="9.9" lengthAdjust="spacing" style="stroke:none">0</text><text x="375.95" y="708.6" font-size="17" fill="#000" textLength="20.5" lengthAdjust="spacing" style="stroke:none">10</text><text x="441.65" y="708.6" font-size="17" fill="#000" textLength="20.5" lengthAdjust="spacing" style="stroke:none">20</text><text x="507.35" y="708.6" font-size="17" fill="#000" textLength="20.5" lengthAdjust="spacing" style="stroke:none">30</text><text x="573.05" y="708.6" font-size="17" fill="#000" textLength="20.5" lengthAdjust="spacing" style="stroke:none">40</text><text x="184.6" y="726.9" font-size="18.5" fill="#000" textLength="316.4" lengthAdjust="spacing">Dewpoint / Temperature (°C)</text><line x1="591" y1="134" x2="597" y2="134" stroke="#888" stroke-width="1.2"/><text x="601.2" y="140.3" font-size="17.5" fill="#000" style="stroke:none">8</text><line x1="591" y1="211.4" x2="597" y2="211.4" stroke="#888" stroke-width="1.2"/><text x="601.2" y="217.7" font-size="17.5" fill="#000" style="stroke:none">7</text><line x1="591" y1="286.7" x2="597" y2="286.7" stroke="#888" stroke-width="1.2"/><text x="601.2" y="293" font-size="17.5" fill="#000" style="stroke:none">6</text><line x1="591" y1="359.2" x2="597" y2="359.2" stroke="#888" stroke-width="1.2"/><text x="601.2" y="365.5" font-size="17.5" fill="#000" style="stroke:none">5</text><line x1="591" y1="429.5" x2="597" y2="429.5" stroke="#888" stroke-width="1.2"/><text x="601.2" y="435.8" font-size="17.5" fill="#000" style="stroke:none">4</text><line x1="591" y1="498.1" x2="597" y2="498.1" stroke="#888" stroke-width="1.2"/><text x="601.2" y="504.4" font-size="17.5" fill="#000" style="stroke:none">3</text><line x1="591" y1="564.7" x2="597" y2="564.7" stroke="#888" stroke-width="1.2"/><text x="601.2" y="571" font-size="17.5" fill="#000" style="stroke:none">2</text><line x1="591" y1="630.2" x2="597" y2="630.2" stroke="#888" stroke-width="1.2"/><text x="601.2" y="636.5" font-size="17.5" fill="#000" style="stroke:none">1</text><line x1="591" y1="669.5" x2="597" y2="669.5" stroke="#888" stroke-width="1.2"/><text x="610.3" y="675.8" font-size="17" fill="#dcdcdc" textLength="33.5" lengthAdjust="spacing">HKN</text><text x="609.8" y="675.8" font-size="17" fill="#222" textLength="29.2" lengthAdjust="spacing">LCL</text><text x="283" y="407.4" font-size="12" fill="#e8229a" text-anchor="middle" style="stroke:none">1</text><text x="337" y="407.4" font-size="12" fill="#e8229a" text-anchor="middle" style="stroke:none">2</text><text x="370.3" y="407.4" font-size="12" fill="#e8229a" text-anchor="middle" style="stroke:none">3</text><text x="395" y="407.4" font-size="12" fill="#e8229a" text-anchor="middle" style="stroke:none">4</text><text x="431" y="407.4" font-size="12" fill="#e8229a" text-anchor="middle" style="stroke:none">6</text><text x="457.3" y="407.4" font-size="12" fill="#e8229a" text-anchor="middle" style="stroke:none">8</text><text x="483.5" y="407.4" font-size="12" fill="#e8229a" text-anchor="middle" style="stroke:none">10</text><text x="523.7" y="407.4" font-size="12" fill="#e8229a" text-anchor="middle" style="stroke:none">15</text><text x="553" y="407.4" font-size="12" fill="#e8229a" text-anchor="middle" style="stroke:none">20</text><text x="575.5" y="407.4" font-size="12" fill="#e8229a" text-anchor="middle" style="stroke:none">25</text><text transform="translate(628.6,505.9) rotate(-90) scale(1.15,1)" x="0" y="0" font-size="16" fill="#000" style="stroke:none" textLength="156.9" lengthAdjust="spacing">Mixing Ratio (g/kg)</text><text transform="translate(628.6,538.9) rotate(-90) scale(1.15,1)" x="0" y="0" font-size="16" fill="#f8cde2" style="stroke:none" textLength="202.6" lengthAdjust="spacing">Mixing Ratio (g/kg)</text><text x="418.8" y="57.7" font-size="15.8" fill="#000" textLength="105.1" lengthAdjust="spacing">Temperature</text><text x="418.8" y="70.63" font-size="15.8" fill="#000" textLength="74.4" lengthAdjust="spacing">Dewpoint</text><text x="418.8" y="83.56" font-size="15.8" fill="#000" textLength="145.6" lengthAdjust="spacing">Parcel Trajectory</text><text x="418.8" y="96.49" font-size="15.8" fill="#000" textLength="98.4" lengthAdjust="spacing">Dry Adiabat</text><text x="418.8" y="109.42" font-size="15.8" fill="#000" textLength="101.2" lengthAdjust="spacing">Wet Adiabat</text><text x="418.8" y="122.35" font-size="15.8" fill="#000" textLength="72" lengthAdjust="spacing">Isotherm</text><text x="418.8" y="135.28" font-size="15.8" fill="#000" textLength="103.2" lengthAdjust="spacing">Mixing Ratio</text><text x="732.4" y="251.4" font-size="16.3" fill="#000">K</text><text x="874.2" y="251.4" font-size="16.3" fill="#000" textLength="20.9" lengthAdjust="spacing">17</text><text x="732.4" y="273.3" font-size="16.3" fill="#000" textLength="112" lengthAdjust="spacing">Totals Totals</text><text x="874.2" y="273.3" font-size="16.3" fill="#000" textLength="20.3" lengthAdjust="spacing">46</text><text x="732.4" y="294.7" font-size="16.3" fill="#000" textLength="77.6" lengthAdjust="spacing">PW (cm)</text><text x="874.2" y="294.7" font-size="16.3" fill="#000" textLength="37.3" lengthAdjust="spacing">1.32</text><text x="732.4" y="342.1" font-size="16.3" fill="#000" textLength="91.6" lengthAdjust="spacing">Temp (°C)</text><text x="874.2" y="342.1" font-size="16.3" fill="#000" textLength="37.2" lengthAdjust="spacing">10.3</text><text x="732.4" y="363.5" font-size="16.3" fill="#000" textLength="89.9" lengthAdjust="spacing">Dewp (°C)</text><text x="874.2" y="363.5" font-size="16.3" fill="#000" textLength="26.3" lengthAdjust="spacing">7.8</text><text x="874.2" y="384.9" font-size="16.3" fill="#000" textLength="31.8" lengthAdjust="spacing">300</text><text x="732.4" y="406.5" font-size="16.3" fill="#000" textLength="103.7" lengthAdjust="spacing">Lifted Index</text><text x="874.2" y="406.5" font-size="16.3" fill="#000">5</text><text x="732.4" y="427.9" font-size="16.3" fill="#000" textLength="78.6" lengthAdjust="spacing">CAPE (J)</text><text x="874.2" y="427.9" font-size="16.3" fill="#000">0</text><text x="732.4" y="449.3" font-size="16.3" fill="#000" textLength="62.2" lengthAdjust="spacing">CIN (J)</text><text x="874.2" y="449.3" font-size="16.3" fill="#000">0</text><text x="732.4" y="497.4" font-size="16.3" fill="#000" textLength="129.6" lengthAdjust="spacing">Pressure (mb)</text><text x="874.2" y="497.4" font-size="16.3" fill="#000" textLength="31.4" lengthAdjust="spacing">975</text><text x="874.2" y="518.7" font-size="16.3" fill="#000" textLength="31.4" lengthAdjust="spacing">303</text><text x="732.4" y="540.7" font-size="16.3" fill="#000" textLength="103.6" lengthAdjust="spacing">Lifted Index</text><text x="874.2" y="540.7" font-size="16.3" fill="#000">4</text><text x="732.4" y="562" font-size="16.3" fill="#000" textLength="78.1" lengthAdjust="spacing">CAPE (J)</text><text x="874.2" y="562" font-size="16.3" fill="#000">0</text><text x="732.4" y="583.3" font-size="16.3" fill="#000" textLength="62.1" lengthAdjust="spacing">CIN (J)</text><text x="874.2" y="583.3" font-size="16.3" fill="#000">0</text><text x="732.4" y="631.2" font-size="16.3" fill="#000" textLength="22" lengthAdjust="spacing">EH</text><text x="874.2" y="631.2" font-size="16.3" fill="#000">2</text><text x="732.4" y="652.5" font-size="16.3" fill="#000" textLength="45.1" lengthAdjust="spacing">SREH</text><text x="874.2" y="652.5" font-size="16.3" fill="#000">3</text><text x="732.4" y="674.5" font-size="16.3" fill="#000" textLength="67.4" lengthAdjust="spacing">StmDir</text><text x="874.2" y="674.5" font-size="16.3" fill="#000" textLength="40.3" lengthAdjust="spacing">113°</text><text x="732.4" y="695.8" font-size="16.3" fill="#000" textLength="109.3" lengthAdjust="spacing">StmSpd (kt)</text><text x="874.2" y="695.8" font-size="16.3" fill="#000">6</text><text x="787.4" y="320.5" font-size="16" fill="#000" textLength="66.1" lengthAdjust="spacing">Surface</text><text x="753.7" y="475.3" font-size="16" fill="#000" textLength="125.3" lengthAdjust="spacing">Most Unstable</text><text x="771.5" y="609.5" font-size="16" fill="#000" textLength="94" lengthAdjust="spacing">Hodograph</text><text x="732.4" y="384.9" font-size="16" font-weight="bold" font-style="italic">θ</text><text x="742" y="387.7" font-size="8" font-weight="bold">E</text><text x="748.5" y="384.9" font-size="16" textLength="25.8" lengthAdjust="spacing">(K)</text><text x="732.4" y="518.7" font-size="16" font-weight="bold" font-style="italic">θ</text><text x="742" y="521.5" font-size="8" font-weight="bold">E</text><text x="759" y="518.7" font-size="16" textLength="26" lengthAdjust="spacing">(K)</text><circle cx="723.5" cy="721.4" r="7.4" fill="none" stroke="#000" stroke-width="1.5"/><text x="718.6" y="726.3" font-size="15">c</text><text x="740" y="726.7" font-size="18.5" fill="none" style="stroke:#cfcfcf;stroke-width:0.7px" textLength="140" lengthAdjust="spacing">Weatheronline</text><text x="738.7" y="726.7" font-size="18.5" fill="#000" textLength="212.9" lengthAdjust="spacing" style="stroke:none">weatheronline.co.uk</text>
</svg>
</body></html>
